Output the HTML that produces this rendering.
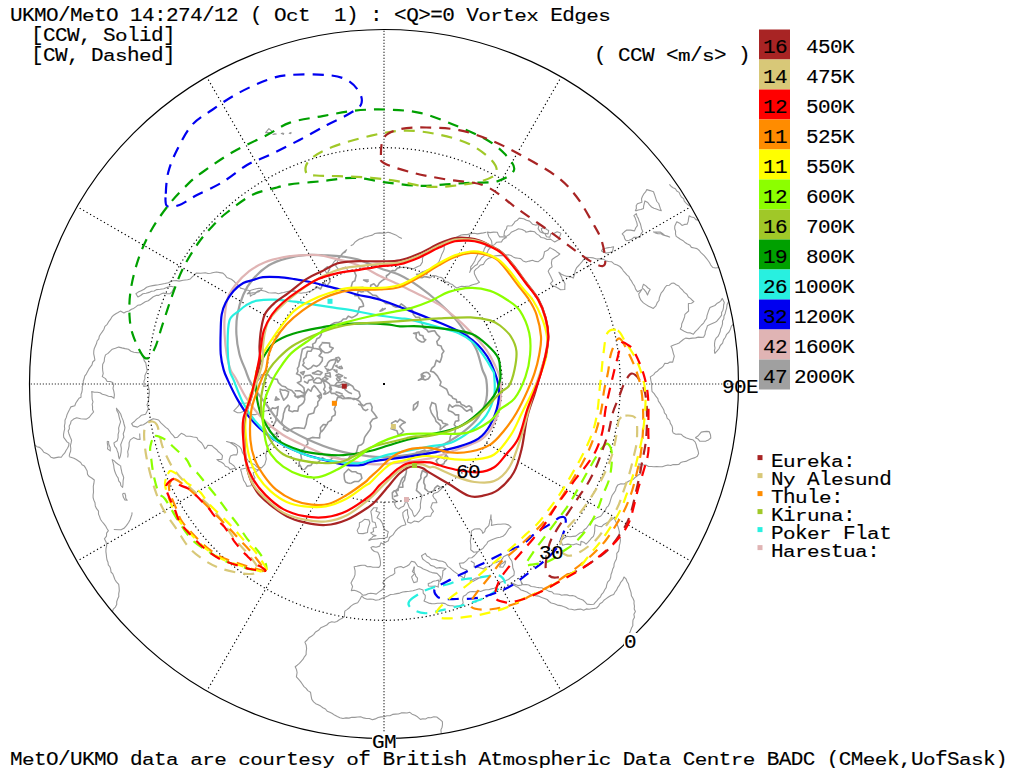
<!DOCTYPE html>
<html><head><meta charset="utf-8"><style>
html,body{margin:0;padding:0;background:#fff;width:1016px;height:768px;overflow:hidden}
svg{position:absolute;left:0;top:0}
.t{position:absolute;font-family:"Liberation Mono",monospace;font-size:21px;letter-spacing:-0.6px;line-height:20px;white-space:pre;color:#000;-webkit-text-stroke:0.15px #000}
.x,.a,.i{display:inline-block;transform-origin:0 15.5px}
.x{transform:scaleY(0.79)}
.a{transform:scaleY(0.93)}
.i{transform:scaleY(0.94)}
</style></head><body>
<svg width="1016" height="768" viewBox="0 0 1016 768">
<path d="M351.2,270.4 L348.0,270.7 L345.6,267.0 L342.2,268.2 L338.8,269.8 L337.1,267.6 L335.7,265.9 L336.8,263.1 L338.0,260.4 L339.4,257.9 L341.3,255.9 L342.6,253.4 L345.2,252.2 L346.6,249.8 L344.6,251.4 L342.6,253.2 L341.0,255.2 L338.8,257.3 L336.9,259.6 L334.4,261.2 L332.8,263.7 L331.3,266.3 L329.6,268.8 L328.2,271.1 L328.8,275.2 L329.1,278.1 M326.4,286.6 L324.4,282.5 M314.9,288.7 L312.6,290.4 L310.1,291.2 L306.3,292.6 L303.7,292.8 L301.1,293.3 L298.5,292.7 L296.1,291.4 L293.4,290.9 L289.8,291.1 L286.4,291.7 L283.8,292.5 L281.1,292.9 L278.4,293.8 L275.3,292.7 L271.9,293.0 L268.5,292.8 L265.3,291.3 L260.8,290.2 L258.9,291.8 L256.4,292.6 L254.5,294.3 L252.0,295.0 L250.4,296.2 L250.0,293.4 L249.4,290.5 L246.5,290.0 L243.9,289.0 L240.5,288.1 L238.6,285.5 L235.9,283.7 L233.9,281.2 L231.4,279.3 L226.8,277.5 L225.1,275.2 L222.9,273.1 L219.8,272.6 L216.5,272.0 L213.5,272.5 L210.6,273.2 L208.0,273.5 L205.4,272.8 L200.7,273.2 L196.2,273.1 L194.4,275.1 L192.2,276.9 L190.3,279.0 L187.6,279.8 L183.2,280.3 L179.2,281.1 L176.3,280.6 L173.2,280.7 L170.7,281.4 L168.4,282.7 L164.9,283.5 L161.3,284.2 L158.5,284.7 L155.8,285.1 L152.7,285.6 L149.6,286.2 L146.6,287.3 L144.1,289.3 L141.2,290.7 L138.2,292.1 L135.9,293.7 L137.9,297.0 L140.6,295.5 L142.9,293.7 L146.0,293.2 L149.1,292.4 L151.5,291.2 L154.2,291.0 L156.5,289.6 L160.2,289.3 L163.8,288.7 L167.3,287.2 L170.9,286.3 L174.8,287.2 L173.3,289.2 L172.1,291.6 L170.1,293.6 L166.8,293.8 L163.4,293.1 L161.0,293.9 L158.8,295.4 L156.1,295.4 L153.3,296.8 L150.8,298.7 L148.3,300.7 L145.3,301.8 L142.6,303.5 L140.5,304.9 L137.7,305.3 L135.8,306.9 L133.7,308.4 L131.4,309.2 L129.0,311.0 L126.1,311.7 L123.9,312.9 L120.4,311.1 L118.1,312.5 L115.8,313.8 L113.6,315.2 L111.7,317.2 L110.3,319.7 L108.5,321.9 L107.2,324.3 L104.9,326.3 L104.0,329.2 L102.4,331.6 L100.7,334.0 L99.3,336.3 L98.8,338.9 L97.1,341.0 L96.5,343.6 L95.4,346.0 L94.3,348.4 L93.8,350.8 L93.7,353.8 L94.3,356.7 L94.9,360.0 L92.7,362.0 L92.0,364.8 L90.3,367.1 L88.7,369.4 L87.5,371.7 L86.3,374.1 L84.7,376.2 L84.1,378.8 L83.2,381.3 L83.4,384.1 L82.2,386.6 L82.3,389.3 L81.9,392.0 L81.0,394.5 L81.0,397.2 L79.0,398.3 L77.4,400.6 L75.8,403.0 L74.8,405.7 L70.8,406.9 L69.7,409.3 L68.5,411.6 L67.1,414.4 L66.3,417.4 L65.0,420.3 L65.0,423.2 L64.4,426.0 L64.7,428.8 L64.0,431.7 L63.5,434.6 L63.7,437.4 L65.4,439.6 L67.0,441.9 L69.0,443.3 L68.6,446.0 L67.5,448.3 L66.0,450.5 L64.8,452.9 L63.0,454.8 L61.3,457.2 L58.6,457.1 L56.0,457.6 L53.8,458.1 L50.9,457.2 L49.0,455.0 L46.6,453.4 L43.8,452.2 L42.0,449.6 L39.6,447.4 L36.9,446.7 L34.8,444.9 M69.2,456.6 L69.6,453.9 L70.6,451.3 L70.8,448.5 L70.4,445.6 L71.1,442.9 L71.6,440.2 L70.3,437.3 L69.1,434.3 L68.2,431.1 L69.4,428.8 L69.2,426.1 L70.5,423.8 L71.1,421.2 L73.6,419.1 L76.7,417.7 L80.7,418.7 L83.7,419.0 L86.4,419.1 L89.3,417.3 L91.2,414.7 L93.6,412.0 L92.5,409.5 L92.6,406.9 L92.2,404.4 L93.0,401.8 L92.2,399.3 L92.0,396.8 L92.0,393.9 L91.7,391.6 L94.5,392.2 L97.4,392.2 L100.1,392.8 L102.4,394.3 L105.5,395.0 L108.5,396.3 L111.7,396.6 L114.0,398.2 L114.4,394.6 L113.8,391.1 L113.0,388.3 L113.6,385.3 L112.7,382.4 L110.2,381.5 L107.2,381.5 L105.5,378.6 L102.3,376.6 L103.2,373.6 L102.7,370.5 L102.5,367.4 L102.7,364.3 L104.2,361.5 L104.5,358.2 L105.5,354.9 L108.0,353.4 L110.0,351.3 L112.3,349.2 L115.4,348.3 L118.7,347.1 L121.9,347.9 L125.1,348.6 L128.4,349.2 L131.0,351.2 L133.9,352.2 L137.4,352.6 L141.3,352.7 L142.2,355.5 L143.6,358.0 L144.3,360.8 L145.8,362.8 L146.2,365.3 L146.6,367.8 L147.2,370.4 L146.1,373.1 L144.8,375.7 L145.0,378.6 L143.9,381.2 L144.1,383.9 L143.7,386.5 L148.1,385.7 L149.0,388.9 L149.4,392.2 L149.1,395.3 L148.7,398.2 L148.5,401.6 L147.0,404.8 L148.4,408.6 L147.0,411.4 L145.6,414.2 L141.5,415.2 L139.2,417.4 L136.6,419.1 L134.4,421.5 L131.6,423.6 L133.2,426.1 L137.5,427.1 L140.2,425.4 L143.4,424.7 L146.1,423.0 L148.6,421.1 L153.1,418.7 L155.8,419.2 L158.6,420.0 L160.9,422.9 L163.6,425.4 L165.7,427.4 L168.0,429.0 L169.7,431.3 L171.3,433.7 L173.3,435.7 L174.9,437.8 L177.6,437.2 L179.4,435.2 L181.3,433.3 L183.9,434.4 L186.0,436.2 L190.1,436.3 L193.3,437.0 L196.9,437.5 L198.0,439.8 L201.7,443.0 L203.6,446.0 L204.9,448.7 L206.4,447.8 L207.8,445.2 L212.0,445.6 L214.2,447.8 L216.7,449.7 L218.4,451.8 L220.5,453.4 L222.5,455.7 L221.9,459.4 L216.9,459.6 L219.0,461.3 L221.5,462.3 L223.7,463.8 L225.4,466.2 L228.1,467.2 L230.1,469.6 L233.0,468.7 L235.6,468.2 L233.9,465.8 L231.7,464.1 L229.4,462.8 L229.2,459.7 L230.5,456.0 L233.6,454.8 L236.7,454.9 L237.6,452.2 L237.4,449.7 L236.5,447.0 L234.3,445.3 L232.0,443.8 L229.5,442.2 L226.6,441.5 L229.0,442.3 L231.6,442.6 L234.2,443.2 L236.9,444.9 L239.7,446.7 L241.5,449.4 L242.4,452.6 L244.3,455.2 L245.8,457.5 L247.5,459.7 L249.1,462.0 L251.8,463.4 L254.6,464.5 L256.7,466.9 L261.5,467.9 L264.8,464.4 L265.5,461.8 L266.3,459.1 L265.7,455.5 L266.6,452.0 L266.9,449.4 L267.7,446.6 L269.9,444.4 L272.4,442.4 L273.6,439.6 L275.7,437.6 M278.3,432.6 L275.5,434.2 L272.6,434.4 L269.3,431.5 L269.2,427.8 L273.5,425.3 M270.1,410.6 L267.0,410.5 L264.1,411.6 L261.2,412.6 L258.4,413.6 L255.7,414.6 L252.5,414.6 L249.4,413.8 L246.7,412.6 L244.0,411.2 L240.7,412.6 L237.4,412.7 L233.7,410.8 L236.6,407.8 L238.3,406.0 L239.5,403.2 L242.5,403.3 L245.4,403.2 L248.7,402.5 L248.9,399.0 L249.5,395.6 L250.6,392.8 L252.6,390.4 L253.0,387.2 L255.3,384.9 L256.8,382.0 L258.6,379.8 L260.5,377.7 L261.4,374.6 L264.8,375.2 M240.4,469.3 L243.3,468.7 L246.3,468.0 L249.7,467.8 L253.2,467.7 L256.0,469.2 L259.2,469.5 L256.6,471.3 L253.2,472.7 L253.7,475.3 L255.0,477.8 L253.0,481.4 L250.9,485.8 L247.0,486.4 L245.6,483.3 L243.6,480.3 L242.9,477.5 L242.0,474.8 L241.4,472.0 L240.4,469.3 M116.2,408.0 L118.6,410.9 L120.7,414.0 L121.8,417.4 L123.2,420.6 L124.0,424.0 L125.0,427.5 L124.4,430.6 L123.2,433.8 L123.9,437.1 L122.7,439.6 L121.7,442.1 L120.7,444.7 L121.3,448.4 L121.1,452.1 L120.5,455.5 L119.3,458.9 L118.5,456.3 L118.3,453.5 L117.3,450.9 L116.5,448.3 L114.6,446.1 L113.9,442.9 L117.2,440.8 L118.1,437.7 L118.1,434.4 L118.9,431.3 L118.6,428.1 L119.5,425.1 L120.6,421.9 L119.7,419.1 L119.0,416.3 L118.4,413.4 L116.9,410.8 L116.4,407.9 M120.6,465.5 L120.9,468.1 L121.5,470.5 L121.9,473.0 L122.9,475.3 L123.7,477.6 L123.1,480.9 L123.0,484.2 L122.6,487.5 L120.8,485.5 L120.4,482.8 L118.7,480.8 L118.2,478.1 L116.8,476.0 L115.6,473.5 L114.6,470.8 L114.0,468.1 L113.7,465.3 L113.0,462.6 L112.2,459.6 L114.3,460.9 L116.1,462.8 L118.1,464.3 L120.2,465.6 M108.5,441.0 L108.8,444.3 L110.2,447.4 L110.3,450.9 L107.5,448.9 L107.9,446.3 L107.4,443.8 L107.2,441.8 L108.2,441.1 M124.7,493.0 L125.6,495.5 L125.7,498.2 L127.2,500.3 L124.9,499.9 L123.3,497.1 L122.6,493.9 L124.4,493.1 M132.1,512.4 L131.8,514.9 L130.9,517.3 L130.2,519.5 L128.6,522.5 L126.4,525.6 L124.0,528.3 L121.5,529.6 L118.6,529.7 L113.8,529.5 M139.7,433.6 L139.8,436.5 L140.1,439.4 L136.9,439.1 L133.5,437.6 L130.3,439.9 L129.1,442.7 L129.1,445.8 L128.5,448.8 L127.7,451.6 L128.1,454.6 L127.7,457.5 M69.3,456.7 L73.9,458.2 L76.3,459.5 L78.5,461.0 L80.7,462.5 L82.0,464.7 L84.4,466.1 L85.8,468.4 L87.2,471.1 L87.5,474.3 L89.3,476.6 L91.7,478.0 L94.3,480.0 L93.9,483.2 L93.3,486.4 L93.4,489.6 L93.5,492.2 L93.1,494.9 L93.1,497.5 L93.8,500.1 L95.0,502.8 L95.3,505.9 L96.6,508.7 L98.5,511.2 L98.5,514.1 L99.6,516.6 L100.4,519.2 L102.0,521.5 L103.8,523.6 L105.5,525.8 L106.8,528.2 L108.4,530.7 L106.6,533.1 L106.5,536.2 L104.4,538.8 L106.1,542.0 L106.7,545.5 L106.0,548.5 L105.9,551.6 L106.3,554.6 L106.6,557.5 L107.0,560.0 L108.0,562.3 L108.3,564.9 L110.0,567.0 L110.7,569.4 L111.0,572.0 L112.8,573.9 L113.9,576.7 L114.9,579.5 L116.4,581.9 L118.7,584.3 L119.1,587.5 L119.3,590.7 L118.7,593.8 L118.8,596.6 L117.6,599.1 L116.7,601.7 L116.7,604.6 L115.4,607.1 L113.3,609.1 L112.4,611.9 M271.7,133.3 L268.8,132.6 L265.6,132.6 L268.9,128.6 L272.1,131.3 L271.7,133.0 M276.5,133.9 L272.9,134.4 L274.7,133.7 L276.5,134.4 M284.0,134.5 L281.3,133.6 L283.0,133.0 L284.1,134.2 M290.9,133.8 L289.2,133.2 L291.0,132.4 L290.9,133.7 M262.6,287.9 L260.6,290.2 L257.7,291.1 L255.4,292.7 L252.6,292.9 L249.9,293.2 L247.3,293.9 L250.8,290.3 L253.5,289.5 L256.3,288.7 L259.0,288.4 L262.8,288.3 M350.7,245.8 L353.2,244.5 L355.0,242.1 L357.2,240.5 L359.6,239.0 L362.3,238.4 L364.6,237.0 L367.3,236.6 L369.8,235.8 L372.4,235.1 L374.8,233.5 L377.4,233.1 L380.0,232.9 L382.7,233.1 L385.4,233.0 L388.0,232.3 L390.7,232.9 L393.2,233.9 L395.7,234.9 L398.7,236.9 L401.9,238.6 M327.3,274.1 L325.8,271.8 L324.0,269.1 L327.5,266.5 L329.8,269.5 L328.2,271.8 L326.9,274.3 M304.8,469.3 L301.7,469.9 M399.2,509.4 L396.2,507.4 L394.4,503.7 M400.3,267.5 L403.5,267.3 L406.7,267.3 L409.7,268.1 L412.9,268.9 L415.4,267.7 L417.8,266.4 L420.4,265.4 L422.5,261.9 L422.4,258.9 L423.2,256.0 L425.3,253.5 L427.8,251.4 L430.5,250.5 L432.9,248.8 L435.6,247.8 L438.3,246.8 L440.3,245.3 L442.4,243.8 L444.5,242.9 L444.2,246.1 L444.2,249.1 L443.3,251.6 L442.0,253.9 L441.1,256.4 L440.0,259.1 L438.9,261.9 L436.8,264.3 L434.4,266.2 L432.4,268.0 L430.0,268.9 L427.6,269.7 L424.8,270.9 L422.0,272.1 M430.5,277.7 L433.0,275.5 L435.7,275.7 L438.6,277.0 L441.8,277.6 L443.7,279.5 L445.4,281.9 L448.2,282.1 L450.1,283.8 L452.5,284.6 L454.4,286.5 L456.8,288.0 L459.3,287.1 L461.7,286.3 L464.3,286.6 L466.8,286.3 L469.4,286.1 L471.8,285.0 L474.4,284.3 L477.0,283.6 L479.5,282.3 L477.2,279.5 L475.7,276.4 L474.4,273.8 L474.3,271.2 L475.9,269.1 L478.0,267.6 L480.1,265.3 L483.4,264.4 L484.7,262.0 L486.4,259.9 L488.6,258.2 L491.6,257.4 L494.4,256.0 L497.5,255.6 L500.3,255.4 L503.0,255.6 L505.7,255.1 L508.6,254.8 L511.0,255.5 L513.2,256.9 L515.5,257.9 L518.1,258.2 L520.7,258.6 L523.1,260.9 L526.0,262.1 L529.2,261.1 L532.6,260.3 L535.3,261.4 L538.3,261.7 L540.6,259.8 L542.9,258.0 L543.9,255.0 L544.5,251.7 L547.6,250.3 L550.0,247.6 L552.5,249.1 L555.1,250.4 L557.3,252.3 L559.8,254.0 L557.8,255.7 L555.6,257.0 L552.0,259.5 L551.4,263.2 L552.1,266.9 L549.6,268.8 L548.2,271.2 L549.2,273.6 L550.5,275.9 L551.5,278.3 L552.9,280.9 L550.4,283.7 L552.6,285.8 L555.5,286.8 L558.2,288.3 L560.6,289.8 L564.8,289.5 L564.8,286.6 L565.0,283.7 L563.8,281.4 L562.3,279.4 L561.6,276.9 L560.3,274.7 L558.9,272.2 L561.4,274.2 L564.2,275.4 L567.2,276.4 L570.2,276.6 L573.3,278.1 L574.5,274.6 L575.2,270.8 L576.7,267.6 L579.2,265.0 L582.3,261.3 L583.9,259.2 L586.1,257.2 L589.7,257.5 L593.4,257.9 L596.6,259.0 L599.9,258.9 L603.3,259.1 L605.8,260.8 L608.5,261.5 L611.5,261.7 L614.1,263.9 L617.2,265.0 L619.9,266.5 L621.8,268.5 L623.3,270.8 L625.2,272.8 L626.9,274.9 L629.0,276.7 L630.0,279.2 L631.6,281.2 L632.8,283.5 L634.6,286.1 L635.6,289.2 L637.6,291.8 L641.9,289.4 L640.3,291.8 L638.7,293.8 L639.5,297.3 L640.9,300.2 L643.4,302.9 L646.4,304.9 L648.6,306.3 L650.9,307.3 L653.3,308.4 L655.9,305.9 L657.2,302.7 L659.0,300.5 L659.3,297.9 L660.2,295.5 L661.1,293.1 L663.2,290.7 L664.7,287.9 L666.7,285.5 L669.4,285.2 L671.5,283.3 L674.0,283.1 L676.2,284.8 L678.8,286.0 L680.4,288.2 L682.5,290.0 L684.3,292.4 L686.9,294.2 L688.4,297.0 L690.5,298.4 L692.3,300.3 L693.9,301.6 L691.5,303.3 L688.4,303.5 L688.4,307.2 L688.6,311.0 L684.9,314.3 L684.6,316.9 L683.7,319.2 L682.8,321.6 L681.7,324.0 L681.5,326.7 L680.3,329.0 L682.5,330.2 L684.7,331.6 L687.4,332.7 L690.4,332.9 L693.4,334.2 L695.3,331.6 L697.7,329.4 L699.7,327.0 L701.5,325.0 L703.6,323.1 L704.9,320.7 L706.6,318.5 L707.0,315.6 L707.9,312.9 L708.8,310.2 L710.0,307.6 L712.4,306.5 L714.9,305.5 L716.8,303.6 L719.1,302.3 L721.0,300.6 L722.3,298.4 L724.3,302.5 L723.6,305.0 L723.5,307.7 L722.9,310.2 L721.6,312.6 L721.6,315.2 L720.0,317.3 L718.3,319.3 L716.8,321.2 L714.6,322.6 L712.3,323.6 L710.0,324.6 L707.5,325.7 L706.6,328.6 L705.4,331.5 L705.0,334.6 L703.6,337.2 L701.0,337.4 L698.3,337.1 L695.7,337.9 L692.4,338.1 L689.2,338.6 L685.6,338.1 L683.3,339.5 L681.2,341.2 L679.1,343.0 L676.6,344.0 L673.8,345.0 L671.0,346.2 L672.1,348.6 L672.8,351.1 L673.4,353.6 L674.3,356.1 L673.5,359.2 L672.7,362.1 L670.0,362.1 L667.6,363.5 L664.8,363.3 L663.4,365.8 L661.5,367.8 L659.1,369.3 L657.4,371.2 L655.2,372.5 L653.7,374.6 L650.3,376.9 L650.9,380.5 L651.7,384.0 L651.7,387.6 L652.0,391.3 L654.2,393.6 L655.8,396.2 L657.8,398.6 L658.4,401.2 L660.0,403.3 L661.2,405.6 L662.6,407.8 L663.9,410.2 L664.4,412.9 L666.3,414.9 L667.1,418.1 L669.6,420.3 L670.4,423.4 L671.9,425.7 L672.6,428.2 L672.4,431.0 L673.3,433.1 L675.8,434.2 L678.5,434.0 L681.3,434.3 L683.6,436.6 L686.4,438.1 L689.6,439.1 L692.7,439.7 L695.1,441.9 L696.3,444.8 L697.0,447.8 L698.1,450.8 L698.6,453.5 L697.3,456.2 L695.0,457.6 L691.4,458.7 L688.1,460.3 L685.8,461.4 L683.1,461.7 L680.7,462.6 L678.7,464.5 L676.0,464.6 L673.2,464.5 L670.7,465.5 L667.9,465.0 L665.1,465.8 L662.3,466.8 L659.4,466.8 L656.7,466.6 L653.9,466.7 L651.2,466.5 L648.5,466.5 L646.1,465.1 L643.5,465.0 L638.7,463.9 L639.3,467.1 L640.2,470.2 L640.8,473.5 L638.0,475.2 L635.4,477.2 L633.2,479.4 L629.5,480.7 L627.0,482.3 L624.3,484.0 L620.9,483.8 L617.7,485.1 L616.2,487.6 L615.5,490.5 L613.9,492.9 L612.2,495.3 L611.2,497.9 L610.4,500.6 L609.6,503.3 L608.4,505.8 L606.4,507.7 L605.4,510.3 L603.5,512.2 L602.1,514.5 L600.5,516.3 L597.5,517.4 L594.7,519.1 L592.2,520.2 L590.6,522.2 L589.2,524.3 L587.8,526.3 L586.4,528.3 L584.2,529.8 L582.6,532.2 L579.9,533.0 L577.7,534.6 L575.7,536.1 L572.9,536.4 L570.0,536.8 L566.9,536.2 L563.8,538.3 L560.8,540.7 L562.6,545.3 L565.2,544.5 L567.9,544.1 L570.6,544.6 L573.4,544.7 L576.3,543.8 L580.6,545.3 L581.0,541.4 L583.8,542.2 L586.0,544.1 L588.0,542.2 L589.8,540.1 L591.5,538.0 L593.4,536.3 L594.3,533.6 L594.7,530.9 L594.7,528.1 L595.2,524.8 L598.3,526.2 L601.7,526.6 L603.8,524.4 L606.5,523.0 L609.2,521.6 L611.6,519.8 L613.8,517.8 L615.4,520.8 L616.9,524.0 L618.0,526.6 L618.7,529.2 L619.4,531.9 L619.2,534.9 L620.1,537.6 L620.4,540.5 L620.0,543.2 L619.3,545.7 L619.1,548.5 L618.6,551.1 L616.8,553.4 L616.8,556.2 L616.4,558.9 L615.1,561.4 L614.1,563.9 L613.9,566.8 L612.6,569.3 L612.0,572.0 L611.0,574.5 L610.7,577.3 L609.7,579.9 L607.6,582.1 L606.7,584.8 L606.2,587.6 L604.7,589.8 L603.5,592.3 L601.6,594.3 L600.5,596.8 L598.6,598.7 L597.0,600.7 L595.1,602.7 L593.7,604.3 L590.4,604.5 L587.0,604.1 L585.0,601.9 L582.9,600.0 L580.2,599.0 L577.5,597.9 L575.1,596.2 L572.4,595.5 L569.7,595.7 L567.1,594.9 L564.4,594.7 L561.7,595.2 L559.3,594.2 L556.7,594.0 L554.0,593.8 L551.9,591.8 L549.0,591.4 L546.6,589.9 L544.1,588.7 L541.6,587.8 L539.0,587.6 L536.4,587.3 L533.9,586.7 L531.2,586.5 L528.8,585.0 L526.1,584.5 L523.1,584.7 L521.4,582.3 L520.6,579.4 L521.3,582.4 L521.9,585.0 L517.9,585.6 L514.8,584.3 L511.8,583.0 L513.8,585.1 L516.2,586.5 L518.7,587.8 L521.0,590.0 L524.0,590.9 L526.9,592.0 L529.5,593.7 L532.3,594.9 L535.3,595.6 L538.6,596.1 L541.6,597.4 L544.6,598.4 L547.2,599.5 L549.1,601.5 L551.2,603.0 L554.4,603.8 L557.4,605.1 L560.7,605.6 L563.4,606.6 L566.1,607.5 L568.6,609.0 L571.4,609.2 L574.5,610.0 L577.6,609.4 L580.6,609.1 L583.7,610.2 L586.3,608.9 L589.1,609.3 L591.7,608.8 L594.3,608.4 L596.5,608.0 L598.5,606.1 L599.9,603.8 L602.4,602.3 L603.9,600.2 L606.2,598.6 L608.5,597.0 L610.9,595.5 L613.7,594.4 L615.0,592.0 L616.7,589.9 L617.8,587.3 L619.4,585.2 L620.7,582.3 L622.8,579.9 L624.0,577.0 L626.0,578.8 L626.9,581.2 L628.5,584.1 L629.2,587.2 L630.3,590.2 L631.1,592.9 L631.4,595.8 L632.9,598.3 L634.1,601.0 L634.0,603.7 L634.5,606.3 L634.2,609.0 L635.4,611.6 L633.9,614.3 L634.5,617.3 L633.0,619.9 L632.8,622.8 L632.8,625.8 L631.5,628.1 L630.6,630.6 L629.6,633.0 L628.6,635.4 L627.3,637.8 L625.5,639.9 L624.5,642.3 L624.0,644.9 M399.1,508.7 L401.1,507.3 L403.6,506.2 L404.7,504.1 L405.8,500.6 L407.9,503.7 L409.3,507.6 L412.0,510.7 L413.3,514.7 L414.5,516.6 L416.9,514.3 L419.3,510.9 L420.5,507.9 L420.3,504.7 L421.0,500.2 L422.0,495.9 M440.5,487.7 L443.4,486.7 L440.3,489.8 L437.5,492.3 L433.7,493.5 L432.8,495.8 L434.1,498.1 L435.8,499.7 L436.9,502.8 L432.5,502.8 L430.8,507.4 L433.5,511.4 L431.7,513.4 L430.7,516.1 L427.1,516.2 L424.5,517.0 L422.7,518.9 L418.7,521.9 L414.4,521.0 L411.1,523.1 L407.8,522.3 L407.5,519.9 L408.7,517.6 L407.6,513.8 L407.5,509.4 L405.0,510.6 L402.8,512.6 L402.9,515.5 L403.6,518.4 L405.1,522.2 L405.8,524.7 L401.4,526.0 L398.3,528.2 L395.5,531.0 L393.0,534.9 L389.4,537.5 L388.4,540.7 L384.5,542.7 L382.6,543.9 L381.0,542.8 L379.7,546.1 L376.0,547.2 L372.9,546.6 L370.9,547.4 L372.0,549.5 L374.4,551.5 L377.7,552.2 L379.1,555.1 L380.1,559.2 L380.5,562.2 L380.4,565.4 L378.9,567.4 L375.8,567.3 L372.8,567.2 L370.2,566.5 L367.4,566.7 L364.9,565.3 L362.1,565.2 L359.4,565.6 L356.8,566.3 L354.1,566.7 L355.1,570.8 L355.0,574.9 L353.9,577.8 L352.3,580.4 L351.0,583.1 L352.6,586.4 L351.3,590.6 L354.1,590.2 L356.7,591.1 L360.4,592.8 L363.1,595.3 L365.7,594.9 L367.9,593.8 L370.6,593.3 L373.3,593.5 L376.2,594.1 L378.7,592.1 L381.4,590.3 L383.5,588.3 L385.0,585.5 L382.8,582.8 L384.3,580.7 L385.9,578.8 L390.0,576.1 L392.6,575.1 L394.9,573.1 L394.6,570.9 L394.7,568.4 L398.3,567.0 L401.0,566.6 L403.3,567.7 L406.6,566.3 L409.1,564.7 L411.5,561.2 L414.8,562.1 L417.7,566.2 L420.6,567.3 L423.3,569.0 L427.3,570.4 L429.6,571.7 L432.1,572.6 L437.0,573.4 L440.5,577.0 L439.9,581.5 L441.9,578.5 L442.7,574.3 L442.9,570.8 L445.9,568.5 L442.9,568.0 L439.8,567.6 L436.4,568.1 L433.8,566.2 L430.7,565.4 L428.9,563.3 L426.5,561.9 L424.4,560.4 L422.7,559.0 L421.5,555.8 L425.3,553.4 L426.9,556.0 L429.4,557.3 L431.7,559.3 L434.3,559.2 L436.7,559.9 L439.0,560.9 L442.4,561.3 L445.5,562.8 L447.7,566.4 L449.9,567.9 L451.8,569.6 L454.2,571.6 L456.7,573.4 L460.3,575.9 L462.6,577.1 L464.2,578.6 L465.2,574.0 L466.8,570.1 L463.8,568.9 L460.8,567.5 L459.4,563.3 L463.7,562.9 L466.5,560.6 L468.8,558.0 L471.8,557.7 L474.6,555.5 L476.9,552.9 L477.5,551.7 L473.8,552.2 L470.7,549.8 L470.9,545.8 L470.3,541.0 L471.0,536.9 L471.2,534.0 L471.5,530.9 L474.6,529.0 L477.2,528.8 L479.8,528.9 L481.9,530.8 L482.8,533.4 L484.7,531.6 L485.4,529.0 L488.8,525.6 L489.5,522.7 L490.0,519.9 L491.1,517.5 L491.0,514.9 L490.6,517.5 L491.5,519.9 L491.8,522.5 L491.4,525.4 L494.7,524.8 L497.9,524.3 L500.5,524.3 L503.0,524.0 L505.3,524.0 L508.4,524.9 L511.1,527.1 L508.8,528.7 L507.4,531.0 L505.5,534.0 L502.9,536.3 L500.1,537.2 L497.2,537.8 L494.4,538.8 L491.2,539.9 L488.0,541.4 L486.6,544.0 L484.6,546.2 L482.9,548.5 L480.1,550.1 L477.5,552.0 M470.8,561.0 L474.3,563.3 L474.1,567.0 L478.6,567.5 L483.5,568.9 L485.7,567.0 L488.5,566.8 L491.0,565.6 L493.5,562.7 L496.1,562.6 L498.5,561.4 L500.9,560.7 L502.4,558.7 L503.5,556.7 L507.7,554.5 L509.7,558.0 L511.9,561.3 L512.5,564.5 L512.8,567.7 L514.3,571.8 L514.0,575.3 L511.2,577.2 L508.5,579.5 L506.0,580.6 L503.3,581.2 L500.6,582.3 L498.8,584.9 L496.7,587.3 L494.1,588.3 L491.4,588.9 L488.7,589.7 L485.9,589.8 L483.2,590.4 L480.6,591.5 L477.9,590.8 L475.4,591.8 L472.8,591.5 L470.0,591.8 L467.6,593.0 L465.8,595.1 L463.4,596.2 L462.5,599.4 L463.2,603.0 L459.8,607.1 L457.3,606.4 L454.8,606.3 L452.3,605.7 L449.9,605.8 L447.4,605.1 L445.3,603.6 L442.7,603.1 L440.0,603.3 L437.4,603.2 L434.7,603.7 L431.6,603.6 L428.7,603.1 L424.0,600.9 L425.2,598.3 L425.3,595.4 L423.2,593.1 L423.1,589.9 L419.4,588.7 L416.2,589.8 L413.0,590.7 L409.4,591.3 L405.8,591.6 L402.8,592.0 L399.8,593.1 L396.8,593.6 L393.7,594.2 L390.6,594.5 L387.8,596.0 L384.9,597.2 L382.0,598.3 L379.0,599.8 L375.7,600.3 L372.9,599.2 L370.0,599.1 L367.1,599.2 L364.3,598.2 L361.7,596.1 L360.0,599.2 L357.7,602.7 L355.3,603.5 L353.0,604.6 L350.9,606.1 L349.1,608.0 L347.0,609.6 L344.8,611.1 L344.5,613.6 L344.5,616.5 L342.1,618.3 L339.3,619.7 L336.9,621.5 L334.4,622.2 L331.8,621.8 L329.2,622.7 L326.8,625.0 L323.7,626.4 L320.7,627.8 L318.5,630.3 L315.6,631.9 L313.6,634.6 L311.4,636.3 L308.9,637.8 L307.1,640.0 L304.9,642.1 L306.2,645.3 L306.6,648.6 L306.2,651.6 L306.1,654.7 L304.4,656.8 L303.1,659.2 L301.4,661.1 L299.4,663.3 L297.2,665.2 L295.2,666.7 L296.5,669.6 L297.1,672.5 L296.4,676.8 L298.5,679.2 L300.6,681.6 L302.4,684.3 L304.0,686.6 L306.1,688.4 L307.8,690.6 L310.5,692.2 L311.2,696.3 L311.8,699.4 L313.6,701.8 L315.7,703.7 L318.2,704.8 L320.7,706.1 L322.9,707.7 L325.4,709.0 L327.2,711.2 L329.8,712.3 L332.3,713.5 L334.5,715.1 L337.3,716.6 L339.9,717.8 L343.0,718.5 L346.0,717.9 L349.0,718.1 L351.9,717.2 L354.8,717.4 L357.8,717.0 L360.7,716.8 L363.5,717.9 L366.4,718.5 L369.4,718.5 L372.4,719.8 L375.3,718.9 L378.1,717.5 L381.1,716.9 L384.1,716.8 L386.9,715.8 L389.9,715.8 L392.6,714.4 L395.5,714.1 L398.4,714.0 L401.2,712.9 L404.1,712.7 L407.0,713.0 L409.8,712.3 L412.1,714.2 L414.9,715.3 L417.5,716.8 L420.4,719.4 L422.9,718.7 L425.6,719.0 L427.9,717.6 L430.9,717.7 L433.8,716.8 L436.7,717.0 L439.6,719.2 L442.4,721.7 L442.5,724.5 L442.1,727.2 L440.9,729.9 L441.3,733.8 M505.7,560.6 L505.2,563.5 L502.9,567.3 L499.5,566.9 L500.9,564.3 L503.5,562.8 L505.4,560.6 M469.7,581.3 L473.1,579.6 L476.2,578.0 L479.8,577.7 L475.5,579.9 L472.8,581.4 L469.9,581.6 M428.3,583.6 L430.9,582.8 L433.3,581.3 L436.1,580.7 L438.5,580.1 L438.9,582.8 L438.2,585.3 L438.3,587.1 L435.2,586.0 L432.0,586.2 L428.4,586.0 L428.2,583.2 M415.1,573.5 L415.7,576.1 L417.5,578.1 L417.1,581.7 L413.8,582.6 L412.6,579.9 L411.6,576.8 L414.7,573.7 M414.6,566.6 L414.0,569.8 L414.4,573.4 L412.4,571.7 L413.4,569.2 L414.2,566.6 M368.5,540.7 L371.4,539.5 L374.5,539.1 L377.2,538.9 L379.9,538.5 L382.6,538.4 L385.1,538.0 L387.4,536.9 L387.5,534.6 L388.3,531.8 L384.9,529.7 L383.6,527.6 L382.6,523.8 L380.1,519.6 L377.0,517.7 L378.0,515.7 L379.9,512.5 L376.0,511.3 L377.3,507.8 L373.6,507.8 L370.8,511.4 L371.6,515.3 L371.9,518.1 L372.3,521.8 L375.2,522.5 L375.7,524.8 L376.4,527.5 L373.1,528.0 L373.6,531.6 L370.6,532.9 L373.4,535.1 L376.0,535.6 L372.9,536.5 L372.0,537.6 L368.4,540.4 M358.4,533.4 L357.1,530.4 L359.3,526.4 L359.4,522.7 L362.1,521.4 L364.5,519.3 L368.9,519.9 L369.9,523.0 L368.5,526.9 L367.8,529.4 L367.5,532.5 L363.1,533.6 L358.2,533.4 M561.1,233.2 L559.8,236.4 L558.6,239.8 L554.7,242.0 L552.6,240.6 L550.5,239.1 L547.1,239.5 L544.2,238.0 L541.1,237.5 L539.1,235.4 L536.6,233.9 L534.7,231.8 L530.4,231.1 L525.9,232.2 L525.5,231.2 L522.2,229.5 L518.5,228.8 L516.2,230.1 L514.0,231.0 L511.2,232.3 L509.3,234.5 L506.4,236.4 L503.9,235.5 L504.7,231.0 L506.5,228.9 L507.1,226.0 L511.9,225.7 L513.7,223.7 L515.0,221.4 L517.4,220.2 L519.2,218.1 L523.7,218.8 L526.5,220.3 L529.6,221.1 L532.5,224.2 L535.3,225.1 L539.2,224.5 L538.1,228.6 L540.4,232.1 L542.8,233.0 L545.0,233.7 L546.5,236.8 L549.7,237.3 L550.9,233.6 L554.2,233.2 L557.1,231.8 L560.7,233.1 M543.6,232.8 L541.8,230.8 L541.4,228.6 L544.7,227.5 L546.6,229.5 L548.7,230.5 L548.0,233.9 L543.1,233.0 M506.5,237.2 L502.9,239.5 L501.5,241.9 L496.7,242.2 L494.7,244.4 L492.0,246.1 L491.9,243.5 L491.6,241.1 L490.3,238.8 L488.8,236.7 L487.4,232.1 L490.2,232.6 L493.6,232.1 L497.3,232.3 L498.3,234.7 L499.7,236.9 L503.3,236.9 L506.8,237.7 M490.9,247.6 L488.5,249.5 L487.4,252.4 L485.2,254.0 L483.7,256.1 L481.5,257.7 L480.1,260.0 L478.3,261.9 L477.2,264.5 L474.8,265.8 L472.9,267.6 L471.0,269.5 L469.7,272.4 L470.6,269.8 L470.7,266.9 L472.3,264.8 L473.8,262.6 L475.0,260.4 L475.9,257.8 L477.2,255.4 L478.4,252.7 L481.1,252.7 L483.5,251.9 L484.3,248.9 L486.0,246.1 L490.7,247.4 M486.4,232.3 L483.4,232.9 L480.4,233.4 L477.4,233.9 L474.2,233.2 L470.7,233.6 L467.2,234.6 L464.1,234.6 L461.1,235.0 L458.5,236.2 L455.9,237.5 L452.5,238.9 L449.4,240.7 L445.6,242.4 M601.3,250.9 L603.0,248.8 L605.5,248.3 L608.3,247.6 L611.2,247.3 L613.6,246.7 L613.0,249.2 L612.4,251.9 L609.2,252.5 L605.9,253.1 L603.5,252.3 L601.3,250.8 M642.3,287.7 L643.4,284.3 L645.9,285.9 L648.0,288.0 L650.2,289.4 L648.7,291.9 L647.5,295.0 L646.1,292.1 L644.2,289.7 L641.9,287.6 M626.2,240.7 L624.7,238.6 L624.0,236.0 L622.2,233.8 L624.4,231.8 L626.8,230.0 L630.5,230.1 L634.5,230.9 L635.8,227.8 L637.4,225.6 L636.9,222.9 L636.0,220.4 L635.2,217.8 L633.9,215.7 L636.3,213.7 L637.0,216.2 L638.4,218.6 L639.1,221.1 L640.3,223.5 L641.0,226.1 L641.5,228.7 L642.8,231.4 L641.0,233.9 L640.2,237.1 L637.0,237.4 L633.8,237.4 L631.6,239.3 L629.1,240.3 L626.4,240.6 M635.2,211.0 L636.4,208.6 L636.2,205.8 L637.4,203.7 L641.9,202.3 L641.5,198.7 L642.5,196.2 L643.8,193.9 L645.6,191.9 L646.8,189.6 L650.1,190.6 L653.5,191.8 L654.4,194.2 L655.2,196.7 L656.0,199.1 L656.9,201.5 L658.7,203.5 L659.5,205.9 L660.3,208.4 L661.3,210.7 L658.8,209.9 L656.3,209.1 L653.9,208.3 L651.6,207.0 L649.5,204.9 L647.8,202.5 L644.9,200.9 L644.3,203.5 L643.6,206.1 L643.5,208.4 L640.9,209.5 L638.2,210.0 L635.6,211.1 M653.1,232.0 L656.6,232.1 L660.2,232.0 L662.4,233.5 L664.6,235.2 L667.2,236.0 L669.6,237.1 L665.5,235.8 L663.0,235.0 L660.7,233.6 L657.9,233.8 L655.5,232.9 L653.1,231.7 M718.8,267.5 L715.7,268.0 L712.8,267.5 L710.8,265.1 L709.3,262.3 L707.5,259.8 L706.0,257.8 L704.4,255.9 L702.6,254.1 L700.7,252.3 L699.3,250.5 L697.0,248.6 L694.3,248.0 L691.4,247.4 L689.7,244.9 L687.0,243.7 L684.7,242.2 L682.7,240.4 L680.4,239.3 L678.3,237.8 L676.2,236.4 L675.5,233.9 L675.6,231.3 L674.7,228.8 L674.8,226.1 L676.8,221.8 L679.7,223.2 L682.0,225.4 L684.5,224.4 L687.1,224.2 L688.2,221.4 L688.6,218.4 L689.1,215.8 L691.4,217.0 L694.0,217.5 L695.9,219.6 L698.4,220.3 M733.7,323.9 L731.4,326.2 L730.4,329.2 L729.0,332.0 L726.6,334.3 L725.4,337.2 L723.5,339.9 L722.6,343.1 L720.3,345.5 L719.1,348.5 L717.1,350.9 L714.9,353.3 L714.4,350.7 L715.0,348.2 L714.5,345.6 L714.6,343.0 L715.0,340.6 L716.1,338.2 L718.0,336.4 L719.2,334.0 L720.2,331.5 L720.6,328.9 L721.8,326.4 L722.5,323.9 L722.5,321.1 L723.8,318.7 L724.0,315.9 L725.2,313.4 L725.8,310.8 L726.6,308.3 L727.1,304.5 L728.7,301.2 M669.4,184.3 L671.0,186.2 L673.0,187.7 L675.4,188.8 L676.8,191.0 L679.1,192.4 L680.1,194.7 L681.4,197.0 L683.6,198.6 L684.3,201.2 L686.1,203.1 L687.9,204.8 L691.0,206.8 M695.2,437.7 L697.6,436.3 L699.4,434.4 L701.3,432.1 L704.0,431.6 L706.7,431.4 L709.1,431.6 L710.5,434.7 L710.8,438.0 L708.5,439.9 L705.9,441.1 L702.9,441.2 L699.7,441.2 L697.9,438.9 L695.3,437.8" fill="none" stroke="#999" stroke-width="1.1" stroke-linejoin="round"/>
<path d="M323.8,377.1 L327.9,378.8 L326.2,380.0 L321.6,379.9 L323.7,377.7 M337.9,373.7 L342.6,375.8 L340.4,377.1 L335.9,375.5 L337.8,374.2 M336.7,376.7 L340.6,379.5 L338.3,381.0 L337.2,379.9 L336.3,378.1 M340.8,365.6 L342.4,368.2 L342.1,368.5 L339.0,367.8 L340.2,366.3 M336.4,366.3 L340.3,368.6 L338.6,367.7 L335.5,365.9 L337.6,365.3 M336.6,369.4 L337.0,372.4 L336.3,371.8 L333.9,369.8 L335.5,370.1 M343.9,377.4 L346.1,378.0 L344.8,378.0 L344.0,377.0 M316.8,396.5 L321.3,394.5 L321.3,398.0 L318.0,397.4 M327.5,368.8 L328.8,370.1 L327.3,371.5 L327.2,369.3 M303.9,381.3 L307.6,383.2 L308.7,380.4 L311.4,379.8 L313.4,378.4 L310.3,375.0 L305.1,375.9 L303.4,378.4 M294.7,390.8 L300.1,390.9 L302.4,392.6 L304.2,393.4 L304.2,397.1 L301.2,396.2 L297.9,397.9 L294.1,395.4 M275.6,396.7 L277.5,398.6 L279.1,399.4 L275.1,400.1 L276.4,396.3 M343.7,387.3 L345.7,390.2 L348.9,392.6 L352.0,393.8 M335.5,391.9 L339.6,392.9 L342.7,394.3 M358.1,404.1 L360.9,405.2 L363.2,409.2 L365.7,410.6 L368.3,409.1 M321.3,432.1 L323.9,428.9 L326.3,425.2 M393.9,496.5 L397.6,495.5 L395.5,490.8 L397.4,489.0 L399.2,487.2 L402.9,487.2 L402.6,482.9 L404.5,480.1 L405.1,477.1 L405.6,474.0 M425.6,376.6 L422.5,375.1 L423.8,378.8 M365.6,291.4 L364.9,289.1 L363.0,287.4 L360.5,287.5 L357.3,287.7 L354.3,288.5 L352.4,288.4 L351.3,286.4 L352.5,282.1 L354.9,280.8 L355.5,277.9 L356.1,275.6 L354.1,270.9 L351.2,270.4 M329.1,278.1 L330.2,281.4 L326.4,286.6 M324.4,282.5 L322.4,285.1 L320.6,289.0 L317.2,287.0 L314.9,288.7 M275.7,437.6 L278.3,432.6 M273.5,425.3 L274.8,422.9 L276.1,420.5 L275.7,417.1 L277.1,415.3 L277.5,411.3 L278.2,406.6 L275.4,408.5 L272.3,407.9 L270.1,410.6 M264.8,375.2 L268.2,374.7 L270.3,377.6 L273.5,378.8 L277.3,379.4 L278.4,382.7 L280.7,384.9 L282.0,386.0 L285.0,386.7 L287.6,389.0 L291.8,390.4 L293.5,392.4 L295.3,394.4 L295.5,396.7 L299.9,396.0 L305.0,394.9 L304.4,391.5 L303.9,387.9 L302.2,386.2 L297.3,382.7 L300.9,381.3 L301.2,377.7 L299.9,375.2 L296.5,373.8 L297.9,371.3 L297.4,368.4 L298.8,366.4 L299.4,362.6 L300.4,359.3 L301.1,355.4 L301.6,352.8 L302.4,349.2 L307.0,346.9 L313.1,347.8 L312.6,344.1 L315.3,342.6 L316.9,338.8 L319.5,337.5 L321.3,334.5 L321.6,330.5 L324.1,329.0 L327.4,328.6 L329.4,326.6 L331.1,324.8 L334.3,322.9 L338.7,322.2 L341.3,321.3 L343.3,319.0 L346.2,318.9 L348.4,316.1 L351.8,317.8 L354.5,316.4 L356.9,314.8 L358.3,312.5 L358.7,309.6 L359.5,307.1 L363.6,306.2 L363.2,303.8 L361.5,300.4 L358.8,297.9 L358.2,295.8 L354.8,295.7 L357.4,294.4 L358.3,290.6 L361.3,292.0 L364.3,291.5 M368.8,280.0 L365.4,280.1 L363.6,280.0 L367.1,281.7 L368.6,280.8 M302.1,469.7 L300.9,466.8 L299.1,464.0 L299.5,461.2 L301.6,458.8 L300.8,454.8 L300.8,450.7 L304.1,449.1 L305.3,446.1 L307.9,443.9 L307.1,439.2 L310.2,438.2 L312.4,437.4 L315.6,437.7 L319.7,437.9 L319.7,434.8 L320.7,431.7 L320.4,427.8 L323.3,424.5 L326.9,424.8 L328.0,422.1 L331.2,420.3 L332.1,416.6 L335.1,415.0 L335.4,412.0 L334.2,409.2 L335.3,406.2 L336.0,402.5 L337.6,397.2 L340.5,397.5 L343.0,398.7 L345.5,398.5 L349.8,398.5 L355.0,398.6 L357.2,400.0 L359.6,401.4 L361.1,403.9 L363.6,405.8 L366.2,403.8 L370.5,403.3 L372.2,407.2 L371.6,410.5 L373.5,412.7 L375.0,414.8 L377.1,417.7 L372.7,419.2 L370.0,423.0 L371.1,426.2 L370.2,429.4 L367.4,433.3 L365.8,435.4 L364.5,437.6 L363.4,442.8 L361.5,444.7 L358.3,445.7 L357.2,449.6 L356.3,452.7 L354.8,455.9 L349.9,456.0 L348.3,459.1 L345.6,459.2 L342.0,459.1 L338.8,458.2 L335.8,457.3 L333.2,457.4 L330.3,459.8 L326.9,460.5 L322.3,457.8 L319.3,461.2 L317.0,463.4 L312.8,462.5 L311.0,465.4 L307.6,465.9 L304.8,469.3 M350.7,483.5 L348.0,483.0 L345.6,482.0 L344.5,479.2 L344.1,474.7 L344.4,473.2 L348.4,469.2 L351.7,471.7 L355.6,471.7 L357.6,473.3 L360.8,474.0 L361.9,478.2 L358.6,481.5 L354.5,481.5 L350.8,483.4 M282.9,429.0 L287.5,431.2 L289.5,430.2 L294.2,428.1 L298.3,427.8 L304.4,428.5 L306.1,424.3 L306.9,419.1 L308.5,414.6 L313.7,413.0 L314.9,408.2 L317.7,405.5 L317.8,402.0 L319.8,399.6 L319.1,396.5 L320.9,393.5 L319.1,391.4 L317.2,388.8 L314.3,385.6 L312.4,387.6 L311.0,391.3 L308.2,389.0 L306.6,391.5 L305.2,394.0 L304.6,396.7 L304.7,399.8 L303.6,402.6 L301.5,404.6 L298.7,406.5 L297.8,411.1 L294.3,410.8 L292.5,411.7 L288.8,410.5 L289.5,406.5 L288.1,405.1 L285.1,408.5 L284.5,411.1 L283.5,413.5 L283.0,418.1 L281.7,422.2 L282.7,424.7 L284.7,426.8 L282.9,429.0 M330.7,393.4 L330.8,390.5 L329.5,387.7 L331.1,385.3 L334.8,385.7 L338.5,387.1 L342.9,387.0 L346.4,386.3 L349.8,384.5 L352.7,386.2 L354.2,389.2 L358.9,391.6 L360.2,396.0 L358.2,398.6 L353.5,399.5 L351.0,398.1 L348.3,397.7 L344.9,398.3 L342.5,395.5 L339.0,396.5 L334.7,393.3 L330.9,393.4 M334.8,385.3 L337.1,382.5 L340.7,382.5 L343.6,381.5 L345.7,382.5 L349.3,384.1 L344.5,384.5 L341.5,384.4 L339.0,385.6 L334.8,385.3 M323.2,394.6 L325.6,391.8 L323.7,389.5 L325.0,386.8 L324.6,384.3 L322.8,380.8 L326.7,381.8 L329.4,383.8 L331.6,389.3 L329.5,391.5 L327.6,393.1 L324.3,394.5 M313.6,381.0 L316.7,378.0 L319.4,378.0 L321.9,380.3 L321.0,382.9 L317.4,383.2 L313.9,382.4 L313.2,379.7 M311.9,373.2 L315.0,372.2 L318.0,370.7 L322.1,372.6 L320.3,374.6 L318.2,374.5 L315.0,374.0 L311.9,373.2 M304.5,362.3 L302.6,365.1 L304.2,366.4 L307.9,369.3 L310.9,367.9 L313.4,365.3 L316.5,366.5 L319.2,364.9 L322.3,360.7 L322.4,357.8 L319.0,355.8 L321.7,352.5 L319.8,349.4 L315.3,348.5 L312.4,348.4 L311.1,351.1 L307.5,351.3 L306.5,354.3 L306.1,357.2 L303.7,359.4 L303.3,362.4 M321.6,342.6 L326.1,342.9 L329.6,343.1 L329.7,346.8 L333.2,348.1 L331.3,350.2 L331.0,351.2 L327.8,352.7 L325.1,352.8 L322.2,350.7 L319.3,347.1 L321.9,343.7 M324.2,367.1 L326.8,365.7 L327.6,363.2 L329.2,361.2 L330.5,360.4 L336.1,359.1 L335.4,362.5 L333.7,365.4 L332.3,368.9 L328.2,370.8 L325.2,367.7 M325.3,375.5 L328.3,376.2 L330.5,376.9 L329.9,372.7 L325.5,373.7 L325.4,376.8 M335.0,358.4 L337.2,360.0 L337.8,362.2 L340.2,359.2 L338.8,357.4 L335.3,358.1 M279.5,389.0 L282.8,390.2 L284.9,390.1 L288.7,391.7 L288.1,394.7 L286.9,397.1 L283.7,400.2 L282.0,396.4 L280.9,393.4 L279.8,390.4 M300.2,372.7 L304.4,371.5 L303.1,374.7 L300.1,372.2 M398.4,435.2 L396.9,430.8 L391.1,428.8 L392.3,425.9 L391.5,423.1 L395.8,420.8 L397.4,422.1 L399.8,419.2 L405.3,422.5 L402.3,423.7 L399.6,426.6 L403.6,431.2 L401.6,433.2 L399.0,434.6 M413.1,410.6 L413.5,407.5 L413.6,405.2 L418.1,401.6 L417.5,405.8 L415.6,408.4 L413.0,410.6 M447.8,423.9 L445.6,425.5 L443.4,427.0 L440.1,429.8 L440.6,425.7 L438.5,423.4 L436.0,421.3 L435.1,418.3 L433.1,415.5 L431.3,412.6 L430.0,408.1 L431.9,402.4 L435.5,403.9 L436.2,406.8 L436.5,409.6 L437.2,412.7 L437.2,415.9 L438.3,419.4 L441.5,420.5 L443.1,423.3 L445.9,423.9 L448.4,425.1 M430.5,375.7 L428.4,378.7 L425.2,379.9 L422.2,378.9 L418.4,380.2 L421.8,378.3 L421.2,374.5 L423.9,372.8 L426.4,372.3 L428.4,373.1 L430.5,375.8 M426.1,339.3 L423.7,341.9 L421.6,342.0 L418.2,340.3 L416.0,337.7 L416.3,334.2 L413.6,333.3 L416.5,332.9 L418.8,332.1 L419.8,334.9 L422.9,335.8 L423.7,338.8 L426.4,340.1 M383.3,308.1 L380.0,311.1 L381.6,310.7 L385.3,308.5 L383.9,309.2 M394.4,503.7 L395.7,500.8 L392.6,498.6 L392.3,492.9 L394.2,490.9 L398.1,490.5 L398.5,486.9 L399.8,484.5 L401.0,481.0 L402.6,478.0 L405.6,475.3 L406.4,471.9 L406.3,469.3 L406.1,467.1 L406.1,461.6 L410.1,459.5 L412.8,456.1 L415.7,454.2 L416.5,452.2 L419.8,451.8 L424.9,450.1 L428.6,453.6 L433.2,453.0 L436.3,452.7 L439.7,449.7 L442.4,451.5 L446.0,454.3 L444.1,458.9 L440.7,457.3 L438.4,458.4 L436.1,460.6 L437.5,463.3 L440.3,465.3 L443.9,463.8 L444.9,461.4 L446.2,460.5 L448.0,457.4 L445.7,454.4 L447.9,451.1 L445.8,448.9 L442.7,445.6 L445.3,444.6 L447.3,443.3 L449.9,441.0 L450.0,437.7 L451.1,434.6 L454.8,433.1 L455.4,429.5 L455.8,426.6 L454.2,424.7 L455.5,421.2 L458.8,420.6 L458.5,418.1 L458.7,414.7 L455.4,414.9 L453.3,412.7 L451.1,411.5 L448.5,410.7 L448.2,409.1 L449.5,404.5 L452.3,407.3 L455.6,405.4 L459.0,405.6 L462.0,407.0 L464.6,409.6 L466.8,411.3 L470.5,409.3 L472.2,411.8 L471.5,407.5 L469.2,405.8 L466.2,407.1 L463.9,405.4 L461.4,404.6 L460.0,401.9 L456.8,402.4 L456.3,399.6 L452.9,398.3 L451.8,396.3 L448.8,394.6 L447.5,391.3 L446.7,389.2 L442.6,386.9 L439.9,385.4 L441.0,382.0 L439.6,379.8 L437.5,376.1 L435.5,373.9 L433.7,372.1 L430.5,371.3 L431.9,368.1 L434.6,365.8 L436.3,360.3 L439.8,362.3 L440.8,360.2 L441.9,356.6 L441.9,354.1 L443.9,351.2 L441.9,348.5 L441.1,345.9 L437.7,345.0 L436.8,341.6 L438.6,339.5 L439.9,337.1 L437.2,334.7 L434.6,330.7 L431.7,331.1 L428.4,331.9 L426.6,329.5 L423.3,327.7 L422.3,324.2 L420.7,321.1 L419.6,317.2 L415.7,317.1 L413.4,314.5 L412.7,310.8 L410.2,307.8 L406.9,308.3 L404.3,306.2 L401.2,303.9 L399.1,306.6 L396.1,307.2 L393.7,306.3 L391.5,304.4 L389.6,303.7 L385.7,303.4 L383.4,301.5 L381.0,299.6 L378.5,297.8 L376.3,295.6 L372.7,295.1 L370.1,293.0 L366.3,290.3 L370.4,289.4 L370.7,285.2 L373.9,283.8 L377.0,287.2 L379.4,282.8 L382.4,280.4 L386.5,278.2 L386.4,275.8 L388.5,274.5 L390.3,272.4 L392.2,270.5 L395.1,270.7 L397.4,268.1 L400.3,267.5 M422.0,272.1 L419.6,274.1 L416.6,274.3 L419.6,277.4 L422.4,277.6 L424.9,276.6 L427.7,277.1 L430.5,277.7 M422.0,495.9 L419.3,492.8 L416.4,490.4 L417.0,487.4 L417.4,483.4 L419.1,480.7 L421.0,478.1 L420.7,475.9 L422.4,470.5 L427.5,473.4 L426.8,475.8 L424.5,477.8 L423.9,480.4 L423.7,482.7 L425.0,485.3 L424.9,488.7 L428.6,492.0 L431.2,491.9 L433.8,490.6 L435.0,487.9 L437.6,485.6 L440.5,487.7" fill="none" stroke="#999" stroke-width="1.6" stroke-linejoin="round"/>
<circle cx="384.0" cy="384.0" r="118.2" fill="none" stroke="#000" stroke-width="1.2" stroke-dasharray="1.2 2.8"/>
<circle cx="384.0" cy="384.0" r="236.3" fill="none" stroke="#000" stroke-width="1.2" stroke-dasharray="1.2 2.8"/>
<line x1="502.2" y1="384.0" x2="738.5" y2="384.0" stroke="#000" stroke-width="1.2" stroke-dasharray="1 2"/>
<line x1="486.4" y1="443.1" x2="691.0" y2="561.2" stroke="#000" stroke-width="1.2" stroke-dasharray="1.2 2.8"/>
<line x1="443.1" y1="486.4" x2="561.2" y2="691.0" stroke="#000" stroke-width="1.2" stroke-dasharray="1.2 2.8"/>
<line x1="384.0" y1="502.2" x2="384.0" y2="738.5" stroke="#000" stroke-width="1.2" stroke-dasharray="1 2"/>
<line x1="324.9" y1="486.4" x2="206.8" y2="691.0" stroke="#000" stroke-width="1.2" stroke-dasharray="1.2 2.8"/>
<line x1="281.6" y1="443.1" x2="77.0" y2="561.2" stroke="#000" stroke-width="1.2" stroke-dasharray="1.2 2.8"/>
<line x1="265.8" y1="384.0" x2="29.5" y2="384.0" stroke="#000" stroke-width="1.2" stroke-dasharray="1 2"/>
<line x1="281.6" y1="324.9" x2="77.0" y2="206.7" stroke="#000" stroke-width="1.2" stroke-dasharray="1.2 2.8"/>
<line x1="324.9" y1="281.6" x2="206.7" y2="77.0" stroke="#000" stroke-width="1.2" stroke-dasharray="1.2 2.8"/>
<line x1="384.0" y1="265.8" x2="384.0" y2="29.5" stroke="#000" stroke-width="1.2" stroke-dasharray="1 2"/>
<line x1="443.1" y1="281.6" x2="561.2" y2="77.0" stroke="#000" stroke-width="1.2" stroke-dasharray="1.2 2.8"/>
<line x1="486.4" y1="324.9" x2="691.0" y2="206.7" stroke="#000" stroke-width="1.2" stroke-dasharray="1.2 2.8"/>
<circle cx="384.0" cy="384.0" r="354.5" fill="none" stroke="#000" stroke-width="1.2"/>
<path d="M165.8,193.8 C166.0,188.2 166.4,179.8 168.2,172.5 C170.1,165.2 173.0,157.9 177.0,150.0 C181.0,142.1 186.2,131.7 192.0,125.0 C197.8,118.3 204.5,115.2 212.0,110.0 C219.5,104.8 227.8,98.8 237.0,93.8 C246.2,88.8 258.2,83.1 267.0,80.0 C275.8,76.9 279.5,75.8 289.5,75.0 C299.5,74.2 317.4,74.2 327.0,75.0 C336.6,75.8 341.6,77.1 347.0,80.0 C352.4,82.9 357.2,88.3 359.5,92.5 C361.8,96.7 362.8,101.2 360.8,105.0 C358.7,108.8 352.6,111.7 347.0,115.0 C341.4,118.3 334.9,120.8 327.0,125.0 C319.1,129.2 309.1,135.0 299.5,140.0 C289.9,145.0 278.2,150.8 269.5,155.0 C260.8,159.2 254.9,160.4 247.0,165.0 C239.1,169.6 230.3,177.5 222.0,182.5 C213.7,187.5 204.1,191.2 197.0,195.0 C189.9,198.8 184.5,203.2 179.5,205.0 C174.5,206.8 169.3,207.9 167.0,206.0 C164.7,204.1 165.5,199.3 165.8,193.8Z" fill="none" stroke="#0000f0" stroke-width="2.2" stroke-dasharray="11 8"/>
<path d="M145.0,358.0 C141.5,355.8 136.0,343.4 133.4,336.3 C130.8,329.2 129.9,323.3 129.5,315.5 C129.1,307.7 129.3,299.0 130.8,289.4 C132.3,279.8 135.2,268.1 138.7,258.1 C142.2,248.1 146.5,238.6 151.7,229.5 C156.9,220.4 163.8,211.0 169.9,203.4 C176.0,195.8 182.8,189.1 188.1,183.9 C193.4,178.8 194.7,177.7 202.0,172.5 C209.3,167.3 221.2,158.8 232.0,152.5 C242.8,146.2 257.3,140.0 267.0,135.0 C276.7,130.0 280.8,125.8 290.0,122.6 C299.2,119.4 311.7,118.1 322.5,116.1 C333.3,114.1 344.2,111.7 355.0,110.6 C365.8,109.5 376.6,109.2 387.4,109.6 C398.2,110.0 409.1,110.5 419.9,112.9 C430.7,115.3 441.6,119.9 452.4,124.2 C463.2,128.5 476.2,133.9 484.9,138.8 C493.6,143.7 499.5,148.3 504.4,153.5 C509.3,158.7 515.2,165.1 514.1,169.7 C513.0,174.3 504.9,178.9 497.9,181.1 C490.9,183.3 480.6,182.2 471.9,182.7 C463.2,183.2 454.6,183.8 445.9,184.3 C437.2,184.8 429.6,186.2 419.9,185.9 C410.1,185.6 398.2,184.0 387.4,182.7 C376.6,181.3 365.8,178.1 355.0,177.8 C344.2,177.5 333.3,180.0 322.5,181.1 C311.7,182.2 297.6,183.2 290.0,184.3 C282.4,185.4 283.3,185.7 277.0,187.5 C270.7,189.3 260.3,190.8 252.0,195.0 C243.7,199.2 233.3,207.6 227.0,212.5 C220.7,217.4 218.9,219.3 214.2,224.3 C209.5,229.3 203.8,235.1 198.6,242.5 C193.4,249.9 187.2,259.9 182.9,268.6 C178.6,277.3 176.0,285.1 172.5,294.6 C169.0,304.2 165.1,316.8 162.1,325.9 C159.1,335.0 157.2,343.9 154.3,349.3 C151.5,354.7 148.5,360.2 145.0,358.0Z" fill="none" stroke="#00a000" stroke-width="2.2" stroke-dasharray="11 8"/>
<path d="M306.2,173.0 C305.1,170.4 305.2,164.3 309.5,160.0 C313.8,155.7 321.9,151.1 332.2,147.0 C342.5,142.9 359.3,138.3 371.2,135.6 C383.1,132.9 392.9,131.0 403.7,130.7 C414.5,130.4 425.4,131.8 436.2,134.0 C447.0,136.2 459.4,139.4 468.6,143.7 C477.8,148.0 486.8,155.1 491.4,160.0 C496.0,164.9 497.8,169.5 496.2,173.0 C494.6,176.5 488.9,178.9 481.6,181.1 C474.3,183.2 461.6,185.0 452.4,185.9 C443.2,186.8 435.6,187.4 426.4,186.6 C417.2,185.8 406.4,182.6 397.2,181.1 C388.0,179.6 380.9,178.6 371.2,177.8 C361.4,177.0 347.9,176.6 338.7,176.2 C329.5,175.8 321.4,176.0 316.0,175.5 C310.6,175.0 307.3,175.6 306.2,173.0Z" fill="none" stroke="#a0c828" stroke-width="2.2" stroke-dasharray="11 8"/>
<path d="M380.9,155.1 C380.9,150.8 380.9,141.5 384.2,137.2 C387.4,132.9 393.4,130.7 400.4,129.1 C407.4,127.5 416.6,127.3 426.4,127.5 C436.1,127.7 448.1,127.9 458.9,130.1 C469.7,132.3 480.6,136.1 491.4,140.5 C502.2,144.9 513.0,150.8 523.8,156.7 C534.6,162.6 547.6,169.7 556.3,176.2 C565.0,182.7 569.8,188.1 575.8,195.7 C581.8,203.3 587.7,214.1 592.0,221.7 C596.3,229.3 599.6,234.2 601.8,241.2 C604.0,248.2 606.1,260.1 605.0,263.9 C603.9,267.7 600.2,266.1 595.3,263.9 C590.4,261.7 583.4,256.3 575.8,250.9 C568.2,245.5 559.5,238.4 549.8,231.4 C540.1,224.4 528.2,216.3 517.4,208.7 C506.6,201.1 496.8,190.8 484.9,185.9 C473.0,181.0 457.8,181.6 445.9,179.4 C434.0,177.2 423.7,175.6 413.4,172.9 C403.1,170.2 389.6,166.2 384.2,163.2 C378.8,160.2 380.9,159.4 380.9,155.1Z" fill="none" stroke="#a82424" stroke-width="2.2" stroke-dasharray="11 8"/>
<path d="M152.4,421.5 C154.1,421.7 155.8,422.8 157.0,425.0 C158.2,427.2 158.7,431.2 159.5,434.5 C160.3,437.8 160.9,441.6 162.0,445.0 C163.1,448.4 164.2,451.2 166.0,455.0 C167.8,458.8 170.0,463.6 173.0,468.0 C176.0,472.4 179.9,477.0 184.0,481.4 C188.1,485.8 192.8,490.1 197.3,494.5 C201.8,498.9 206.6,502.8 211.0,507.5 C215.4,512.2 220.1,518.1 223.8,523.0 C227.4,527.9 229.4,532.3 233.0,537.0 C236.6,541.7 242.4,547.6 245.6,551.2 C248.8,554.9 250.1,556.4 252.0,559.0 C253.9,561.6 256.5,564.7 257.0,567.0 C257.5,569.3 256.4,571.8 255.0,573.0 C253.6,574.2 251.3,574.0 248.8,574.0 C246.2,574.0 244.1,574.0 239.4,573.1 C234.7,572.2 226.3,570.5 220.6,568.4 C214.9,566.3 210.2,564.0 205.0,560.6 C199.8,557.2 194.1,553.2 189.4,548.0 C184.7,542.8 181.2,536.0 176.8,529.4 C172.4,522.8 166.7,515.8 162.8,508.4 C158.9,501.0 156.1,493.5 153.4,484.9 C150.7,476.3 148.0,465.4 146.4,456.8 C144.8,448.2 144.0,438.9 144.1,433.4 C144.2,427.9 145.6,426.0 147.0,424.0 C148.4,422.0 150.7,421.3 152.4,421.5Z" fill="none" stroke="#d8c878" stroke-width="2.2" stroke-dasharray="11 8"/>
<path d="M155.0,436.0 C157.6,434.9 163.1,438.3 166.0,440.0 C168.9,441.7 170.3,444.2 172.6,446.3 C174.9,448.4 177.3,450.5 179.7,452.8 C182.1,455.1 185.1,457.6 186.9,460.0 C188.8,462.4 189.1,464.9 190.8,467.1 C192.5,469.3 194.9,470.4 197.3,473.0 C199.7,475.6 201.9,478.7 205.0,482.5 C208.1,486.3 212.2,491.1 215.9,495.8 C219.6,500.5 223.2,505.8 226.9,510.6 C230.6,515.4 234.4,520.0 237.8,524.7 C241.2,529.4 243.8,534.4 247.2,538.8 C250.6,543.1 255.0,547.1 258.0,551.0 C261.0,554.9 263.9,559.0 265.2,562.2 C266.5,565.4 266.9,568.5 266.0,570.0 C265.1,571.5 262.1,571.0 260.0,571.0 C257.9,571.0 256.3,570.7 253.4,570.0 C250.5,569.3 247.4,568.5 242.5,566.9 C237.6,565.3 229.5,563.2 223.8,560.6 C218.0,558.0 213.2,554.6 208.0,551.2 C202.8,547.9 197.3,545.1 192.5,540.3 C187.7,535.5 183.8,529.3 179.2,522.4 C174.6,515.5 168.5,503.9 165.1,499.0 C161.7,494.1 160.8,497.1 158.9,493.2 C157.0,489.3 155.0,481.7 153.7,475.6 C152.4,469.5 151.6,461.6 151.0,456.7 C150.4,451.8 149.7,449.8 150.4,446.3 C151.1,442.9 152.4,437.1 155.0,436.0Z" fill="none" stroke="#8cff00" stroke-width="2.2" stroke-dasharray="11 8"/>
<path d="M173.0,479.0 C174.7,478.2 176.2,479.6 179.0,481.4 C181.8,483.2 186.0,486.6 190.0,490.0 C194.0,493.4 198.8,498.0 203.0,502.0 C207.2,506.0 210.8,509.8 215.0,514.0 C219.2,518.2 223.8,522.7 228.0,527.0 C232.2,531.3 236.0,535.7 240.0,540.0 C244.0,544.3 248.3,548.7 252.0,553.0 C255.7,557.3 259.7,563.0 262.0,566.0 C264.3,569.0 268.0,570.8 266.0,571.0 C264.0,571.2 255.3,568.5 250.0,567.0 C244.7,565.5 239.2,563.8 234.0,562.0 C228.8,560.2 224.0,558.8 219.0,556.0 C214.0,553.2 208.8,549.2 204.0,545.0 C199.2,540.8 193.8,535.2 190.0,531.0 C186.2,526.8 183.3,523.8 181.0,520.0 C178.7,516.2 177.7,512.0 176.0,508.0 C174.3,504.0 172.2,499.7 171.0,496.0 C169.8,492.3 168.7,488.8 169.0,486.0 C169.3,483.2 171.3,479.8 173.0,479.0Z" fill="none" stroke="#ff8c00" stroke-width="2.2" stroke-dasharray="11 8"/>
<path d="M168.0,474.0 C169.1,472.0 169.0,470.4 171.3,471.0 C173.6,471.6 179.1,475.5 181.7,477.5 C184.3,479.5 184.7,481.0 186.9,482.8 C189.1,484.5 192.3,486.3 194.7,488.0 C197.1,489.7 199.0,490.7 201.2,493.2 C203.4,495.7 204.8,499.1 208.0,502.8 C211.2,506.5 216.4,511.1 220.6,515.3 C224.8,519.5 229.1,523.6 233.0,527.8 C236.9,532.0 240.3,536.4 244.0,540.3 C247.7,544.2 251.6,547.1 255.0,551.2 C258.4,555.4 262.4,561.8 264.4,565.3 C266.3,568.8 269.0,571.8 266.7,572.3 C264.4,572.8 255.6,569.8 250.3,568.4 C245.0,567.0 239.9,565.6 234.7,563.8 C229.5,561.9 224.2,560.4 219.0,557.5 C213.8,554.6 208.3,550.8 203.4,546.6 C198.5,542.4 193.3,536.7 189.4,532.5 C185.5,528.3 182.9,526.0 180.0,521.6 C177.1,517.2 174.2,510.8 172.0,506.0 C169.8,501.2 168.2,496.8 167.0,493.0 C165.8,489.2 164.8,486.2 165.0,483.0 C165.2,479.8 166.9,476.0 168.0,474.0Z" fill="none" stroke="#ffff00" stroke-width="2.2" stroke-dasharray="11 8"/>
<path d="M166.0,486.0 C166.8,483.0 171.7,479.0 173.9,478.8 C176.1,478.6 176.6,483.1 179.0,484.7 C181.4,486.3 185.4,486.9 188.2,488.6 C191.0,490.3 193.6,493.1 195.6,495.0 C197.6,496.9 198.2,497.6 200.3,499.7 C202.4,501.8 205.9,505.2 208.0,507.5 C210.1,509.8 211.0,511.4 212.8,513.8 C214.6,516.1 217.2,519.5 219.0,521.6 C220.8,523.7 221.7,523.7 223.8,526.2 C225.8,528.8 229.8,534.4 231.6,537.0 C233.4,539.6 232.9,539.5 234.7,541.9 C236.5,544.3 240.4,548.9 242.5,551.2 C244.6,553.6 245.1,553.9 247.2,556.0 C249.3,558.1 252.7,561.9 255.0,563.8 C257.3,565.6 259.6,565.7 261.2,566.9 C262.9,568.1 266.8,570.6 265.0,571.0 C263.2,571.4 255.4,570.1 250.3,569.0 C245.2,567.9 239.9,566.2 234.7,564.5 C229.5,562.8 224.2,561.3 219.0,558.5 C213.8,555.7 208.3,551.7 203.4,547.5 C198.5,543.3 193.3,537.7 189.4,533.5 C185.5,529.3 182.4,526.4 180.0,522.5 C177.6,518.6 176.8,514.2 175.0,510.0 C173.2,505.8 170.5,501.0 169.0,497.0 C167.5,493.0 165.2,489.0 166.0,486.0Z" fill="none" stroke="#ff0000" stroke-width="2.2" stroke-dasharray="11 8"/>
<path d="M409.2,601.4 C411.0,598.6 418.1,594.4 422.2,592.0 C426.3,589.6 429.7,588.5 434.0,587.2 C438.3,585.9 443.6,585.6 448.1,584.3 C452.6,583.0 456.2,580.7 461.1,579.6 C466.0,578.5 473.8,578.3 477.7,577.8 C481.6,577.3 481.3,577.0 484.8,576.6 C488.3,576.2 495.6,574.4 498.9,575.4 C502.2,576.4 504.8,580.3 504.8,582.5 C504.8,584.7 501.8,586.0 498.9,588.4 C495.9,590.8 491.6,594.3 487.1,596.7 C482.6,599.1 477.3,600.8 471.8,602.6 C466.3,604.4 459.6,605.9 454.1,607.3 C448.6,608.7 443.6,609.9 438.7,610.9 C433.8,611.9 429.0,613.6 424.5,613.2 C420.0,612.8 414.1,610.5 411.5,608.5 C408.9,606.5 407.4,604.1 409.2,601.4Z" fill="none" stroke="#28f0e0" stroke-width="2.2" stroke-dasharray="11 8"/>
<path d="M565.6,519.2 C565.0,516.8 562.9,516.4 560.2,517.3 C557.5,518.2 553.5,521.9 549.2,524.6 C545.0,527.3 539.2,530.4 534.7,533.7 C530.2,537.1 527.1,541.5 521.9,544.7 C516.7,547.9 509.5,550.1 503.7,552.9 C497.9,555.7 491.6,559.0 487.1,561.3 C482.6,563.6 480.0,564.8 476.5,566.6 C473.0,568.4 470.0,569.8 465.9,571.9 C461.8,574.0 456.8,576.2 451.7,579.0 C446.6,581.8 437.6,585.4 435.2,588.4 C432.8,591.4 435.7,594.9 437.5,596.7 C439.3,598.5 442.7,598.6 445.8,599.0 C448.9,599.4 451.9,599.1 456.4,599.0 C460.9,598.9 468.5,598.9 473.0,598.5 C477.5,598.1 479.4,597.8 483.6,596.7 C487.8,595.6 493.3,594.0 498.2,592.0 C503.1,590.0 507.9,587.8 512.8,584.8 C517.7,581.8 522.5,577.4 527.4,573.8 C532.3,570.1 537.1,567.1 542.0,562.9 C546.9,558.6 552.9,553.5 556.5,548.3 C560.1,543.1 562.3,536.8 563.8,531.9 C565.3,527.0 566.2,521.6 565.6,519.2Z" fill="none" stroke="#0000f0" stroke-width="2.2" stroke-dasharray="11 8"/>
<path d="M607.7,443.8 C609.4,444.8 611.5,448.7 611.9,454.2 C612.2,459.7 611.4,470.1 609.8,477.0 C608.2,483.9 604.7,490.0 602.5,495.8 C600.3,501.6 599.1,506.5 596.6,511.9 C594.1,517.3 591.1,523.1 587.5,528.3 C583.9,533.4 579.0,538.8 574.8,542.8 C570.5,546.8 566.3,549.0 562.0,552.0 C557.7,555.0 554.4,559.0 549.2,561.1 C544.0,563.2 534.9,564.1 531.0,564.7 C527.1,565.3 525.0,567.1 525.6,564.7 C526.2,562.3 531.4,555.0 534.7,550.1 C538.0,545.2 542.0,540.5 545.6,535.6 C549.2,530.8 552.9,525.9 556.5,521.0 C560.1,516.1 564.0,511.6 567.5,506.4 C571.0,501.2 574.3,495.2 577.5,489.6 C580.7,484.0 583.9,478.1 586.9,472.9 C589.9,467.7 592.7,462.4 595.2,458.3 C597.7,454.2 599.9,450.4 602.0,448.0 C604.1,445.6 606.1,442.7 607.7,443.8Z" fill="none" stroke="#8cff00" stroke-width="2.2" stroke-dasharray="11 8"/>
<path d="M625.4,415.6 C628.2,415.4 633.9,414.8 635.8,418.8 C637.7,422.8 637.2,433.4 636.9,439.6 C636.6,445.9 635.0,450.7 633.8,456.2 C632.5,461.8 631.3,467.0 629.6,472.9 C627.9,478.8 625.4,485.8 623.3,491.7 C621.2,497.6 619.9,502.8 617.1,508.3 C614.3,513.9 610.2,519.8 606.7,525.0 C603.2,530.2 600.7,535.1 596.2,539.6 C591.8,544.1 584.8,549.3 580.0,552.0 C575.2,554.7 570.8,556.3 567.5,555.6 C564.2,554.9 560.4,552.1 560.0,548.0 C559.6,543.9 562.4,536.1 565.0,531.2 C567.6,526.4 571.6,523.6 575.4,518.8 C579.2,513.9 584.1,507.6 587.9,502.0 C591.7,496.4 595.2,490.9 598.3,485.4 C601.4,479.9 604.3,474.3 606.7,468.8 C609.1,463.2 611.2,458.2 612.9,452.0 C614.6,445.8 616.1,436.6 617.1,431.2 C618.1,425.9 617.6,422.6 619.0,420.0 C620.4,417.4 622.6,415.8 625.4,415.6Z" fill="none" stroke="#d8c878" stroke-width="2.2" stroke-dasharray="11 8"/>
<path d="M631.4,373.6 C633.9,373.0 636.9,376.2 639.2,379.5 C641.5,382.8 643.8,387.2 645.1,393.1 C646.4,399.0 646.9,407.2 647.0,415.0 C647.1,422.8 646.8,432.1 646.0,440.0 C645.2,447.9 643.3,455.3 642.0,462.5 C640.7,469.7 640.1,474.0 638.0,483.0 C635.9,492.0 632.7,508.0 629.6,516.7 C626.5,525.4 622.9,529.8 619.2,535.4 C615.5,541.0 612.0,545.8 607.6,550.1 C603.2,554.4 598.5,557.5 593.0,561.1 C587.5,564.8 580.9,569.3 574.8,572.0 C568.7,574.7 560.8,576.9 556.5,577.5 C552.2,578.1 551.0,577.4 549.2,575.6 C547.4,573.8 545.6,571.6 545.6,566.5 C545.6,561.4 547.4,550.8 549.2,544.7 C551.0,538.6 553.5,535.3 556.5,530.1 C559.5,524.9 563.9,519.2 567.5,513.7 C571.1,508.2 575.0,502.4 578.4,497.3 C581.8,492.2 584.9,488.4 587.9,483.3 C590.9,478.2 593.8,472.2 596.2,466.7 C598.7,461.1 600.4,455.9 602.5,450.0 C604.6,444.1 607.0,437.5 608.8,431.2 C610.5,425.0 611.2,418.2 612.9,412.5 C614.6,406.8 617.1,401.9 619.0,397.0 C620.9,392.1 622.2,387.3 624.3,383.4 C626.4,379.5 628.9,374.2 631.4,373.6Z" fill="none" stroke="#a82424" stroke-width="2.2" stroke-dasharray="11 8"/>
<path d="M619.0,338.4 C621.8,338.3 625.2,346.7 628.0,352.0 C630.8,357.3 633.8,364.0 636.0,370.0 C638.2,376.0 639.8,381.7 641.0,388.0 C642.2,394.3 642.7,401.0 643.0,408.0 C643.3,415.0 643.3,422.7 643.0,430.0 C642.7,437.3 642.0,445.0 641.0,452.0 C640.0,459.0 638.5,465.5 637.0,472.0 C635.5,478.5 634.0,484.8 632.0,491.0 C630.0,497.2 627.7,503.3 625.0,509.0 C622.3,514.7 619.2,519.8 616.0,525.0 C612.8,530.2 609.7,535.3 606.0,540.0 C602.3,544.7 598.3,548.8 594.0,553.0 C589.7,557.2 584.8,561.2 580.0,565.0 C575.2,568.8 570.3,572.3 565.0,576.0 C559.7,579.7 553.8,583.7 548.0,587.0 C542.2,590.3 535.5,593.2 530.0,596.0 C524.5,598.8 520.6,601.7 515.0,603.8 C509.4,605.9 502.0,607.5 496.6,608.5 C491.2,609.5 486.5,609.9 482.4,609.7 C478.3,609.5 473.6,608.9 471.8,607.3 C470.0,605.7 470.4,603.4 471.8,600.2 C473.2,597.1 476.9,592.5 480.0,588.4 C483.1,584.3 487.2,579.8 490.7,575.4 C494.2,571.0 496.9,566.2 501.0,562.0 C505.1,557.8 510.3,554.2 515.0,550.0 C519.7,545.8 524.5,541.3 529.0,537.0 C533.5,532.7 538.0,528.5 542.0,524.0 C546.0,519.5 549.5,514.8 553.0,510.0 C556.5,505.2 559.7,500.2 563.0,495.0 C566.3,489.8 569.7,484.5 573.0,479.0 C576.3,473.5 580.0,467.7 583.0,462.0 C586.0,456.3 588.7,450.7 591.0,445.0 C593.3,439.3 595.2,434.0 597.0,428.0 C598.8,422.0 600.3,415.0 601.5,408.8 C602.7,402.5 603.0,396.6 604.1,390.5 C605.2,384.4 606.8,378.6 608.0,372.3 C609.2,366.0 609.4,358.5 611.2,352.8 C613.1,347.1 616.2,338.5 619.0,338.4Z" fill="none" stroke="#ff8c00" stroke-width="2.2" stroke-dasharray="11 8"/>
<path d="M617.8,330.6 C620.8,332.1 622.8,338.0 625.6,342.3 C628.4,346.6 632.1,351.7 634.7,356.7 C637.3,361.7 639.5,366.7 641.2,372.3 C642.9,377.9 644.5,384.0 645.1,390.5 C645.8,397.0 645.6,403.6 645.1,411.4 C644.6,419.2 643.3,430.0 642.1,437.5 C640.9,445.0 639.3,450.4 637.9,456.2 C636.5,462.1 635.5,467.0 633.8,472.9 C632.0,478.8 629.6,485.8 627.5,491.7 C625.4,497.6 623.9,502.8 621.2,508.3 C618.6,513.9 615.4,519.4 611.9,525.0 C608.4,530.6 604.0,536.9 600.4,541.7 C596.8,546.5 593.7,549.5 590.0,554.0 C586.3,558.5 583.1,564.2 578.4,568.4 C573.7,572.6 567.8,575.7 562.0,579.3 C556.2,582.9 549.9,587.2 543.8,590.2 C537.7,593.2 531.7,594.6 525.6,597.5 C519.5,600.4 512.8,604.9 507.2,607.3 C501.6,609.7 497.1,610.6 491.8,612.0 C486.5,613.4 481.2,614.6 475.3,615.6 C469.4,616.6 462.1,617.6 456.4,618.0 C450.7,618.4 444.5,618.8 441.1,618.0 C437.8,617.2 435.9,615.6 436.3,613.2 C436.7,610.8 440.0,607.1 443.4,603.8 C446.8,600.4 451.9,596.6 456.4,593.1 C460.9,589.6 465.9,586.3 470.6,582.5 C475.3,578.7 480.2,574.0 484.8,570.1 C489.4,566.2 493.5,563.1 498.2,559.2 C502.9,555.3 508.2,550.6 512.8,546.5 C517.4,542.4 521.4,538.6 525.6,534.6 C529.9,530.6 534.2,527.3 538.3,522.8 C542.4,518.2 546.6,512.3 550.4,507.3 C554.1,502.3 557.5,497.8 560.8,492.7 C564.1,487.6 567.1,482.4 570.2,477.0 C573.3,471.6 576.7,465.9 579.6,460.4 C582.5,454.9 585.5,449.3 587.9,443.8 C590.3,438.2 592.6,432.6 594.2,427.0 C595.8,421.4 596.7,416.1 597.6,410.0 C598.5,403.9 598.9,396.8 599.5,390.5 C600.1,384.2 600.9,378.4 601.5,372.3 C602.1,366.2 602.4,360.5 603.4,354.0 C604.4,347.5 604.9,337.1 607.3,333.2 C609.7,329.3 614.8,329.1 617.8,330.6Z" fill="none" stroke="#ffff00" stroke-width="2.2" stroke-dasharray="11 8"/>
<path d="M621.7,343.0 C623.4,341.1 626.0,343.8 628.0,345.0 C630.0,346.2 631.2,346.5 633.4,350.2 C635.6,353.9 639.0,361.2 641.2,367.1 C643.4,373.0 645.2,379.2 646.4,385.3 C647.6,391.4 648.1,396.1 648.4,403.5 C648.7,410.9 648.3,421.9 648.3,430.0 C648.3,438.1 649.0,445.5 648.3,452.0 C647.6,458.5 645.9,462.5 644.2,468.8 C642.5,475.0 640.3,480.9 637.9,489.6 C635.5,498.3 632.7,512.8 629.6,520.8 C626.5,528.8 623.0,532.6 619.2,537.5 C615.4,542.4 611.1,546.1 606.7,550.0 C602.3,553.9 597.8,557.5 593.0,561.0 C588.2,564.5 583.2,567.8 578.0,571.0 C572.8,574.2 567.7,576.8 562.0,580.0 C556.3,583.2 549.9,587.1 543.8,590.2 C537.7,593.3 530.4,596.6 525.6,598.5 C520.8,600.4 518.1,600.7 515.0,601.4 C511.9,602.1 510.5,603.2 507.2,602.6 C503.9,602.0 496.8,601.5 495.4,597.9 C494.0,594.3 496.6,586.5 498.9,581.3 C501.2,576.1 505.7,571.1 509.2,566.5 C512.7,561.9 516.2,558.3 520.1,553.8 C524.0,549.2 528.8,544.0 532.8,539.2 C536.8,534.4 540.6,530.1 544.2,525.0 C547.8,519.9 551.1,513.5 554.6,508.3 C558.1,503.1 561.5,498.6 565.0,493.8 C568.5,488.9 571.8,484.1 575.4,479.2 C579.0,474.3 583.4,469.5 586.9,464.6 C590.4,459.7 593.6,455.6 596.2,450.0 C598.9,444.4 601.0,437.9 602.5,431.2 C604.0,424.6 604.4,416.1 605.4,410.0 C606.4,403.9 607.3,400.2 608.6,394.4 C609.9,388.5 611.7,381.2 613.2,374.9 C614.7,368.6 616.4,362.0 617.8,356.7 C619.2,351.4 620.0,344.9 621.7,343.0Z" fill="none" stroke="#ff0000" stroke-width="2.2" stroke-dasharray="11 8"/>
<path d="M245.3,369.6 C243.3,364.7 240.9,359.8 239.4,353.9 C237.9,348.0 236.7,340.8 236.4,334.2 C236.1,327.6 236.2,321.1 237.4,314.5 C238.6,307.9 240.7,300.7 243.3,294.8 C245.9,288.9 248.8,284.0 253.1,279.1 C257.4,274.2 263.3,268.8 268.9,265.3 C274.5,261.9 280.4,260.1 286.6,258.4 C292.8,256.7 299.7,255.5 306.3,255.0 C312.9,254.5 320.1,255.2 326.0,255.4 C331.9,255.6 336.4,255.7 341.7,256.4 C346.9,257.1 351.1,257.4 357.5,259.4 C363.9,261.4 373.0,265.6 380.0,268.2 C387.0,270.8 393.1,272.0 399.7,275.1 C406.3,278.2 412.8,282.3 419.4,286.9 C426.0,291.5 433.2,297.4 439.1,302.7 C445.0,307.9 450.2,313.1 454.8,318.4 C459.4,323.6 463.0,328.9 466.6,334.2 C470.2,339.4 473.9,344.0 476.5,349.9 C479.1,355.8 480.8,364.6 482.4,369.6 C484.0,374.6 485.6,374.7 486.3,379.7 C487.0,384.7 487.6,393.2 486.3,399.4 C485.0,405.6 482.0,411.9 478.4,417.1 C474.8,422.4 469.9,426.6 464.6,430.9 C459.4,435.2 452.7,439.4 446.9,442.7 C441.1,446.0 436.7,448.4 430.0,450.5 C423.3,452.6 413.5,454.0 406.5,455.1 C399.5,456.2 394.3,456.7 388.2,456.9 C382.1,457.1 378.4,457.4 370.0,456.4 C361.6,455.3 348.4,453.6 337.8,450.6 C327.2,447.7 315.5,443.0 306.3,438.7 C297.1,434.4 289.3,430.6 282.7,425.0 C276.1,419.4 272.1,412.2 266.9,405.3 C261.6,398.4 254.8,389.6 251.2,383.6 C247.6,377.7 247.3,374.6 245.3,369.6Z" fill="none" stroke="#a0a0a0" stroke-width="2.2"/>
<path d="M230.5,369.6 C229.0,365.6 227.6,359.8 226.6,353.9 C225.6,348.0 224.9,340.1 224.6,334.2 C224.3,328.3 224.1,324.3 224.6,318.4 C225.1,312.5 225.8,304.3 227.6,298.7 C229.4,293.1 231.8,289.6 235.4,285.0 C239.0,280.4 244.3,275.0 249.2,271.2 C254.1,267.4 259.4,264.6 265.0,262.3 C270.6,260.0 277.1,258.5 282.7,257.4 C288.3,256.2 292.5,255.8 298.4,255.4 C304.3,255.0 312.2,254.5 318.1,255.0 C324.0,255.5 328.6,257.2 333.9,258.4 C339.1,259.6 344.4,260.7 349.6,262.3 C354.9,263.9 360.3,265.9 365.4,268.2 C370.5,270.5 374.3,273.3 380.0,276.1 C385.7,278.9 393.1,281.9 399.7,285.0 C406.3,288.1 412.8,291.5 419.4,294.8 C426.0,298.1 432.6,300.3 439.1,304.6 C445.7,308.9 452.8,315.1 458.7,320.4 C464.6,325.6 469.9,331.2 474.5,336.1 C479.1,341.0 483.0,345.3 486.3,349.9 C489.6,354.5 491.9,358.7 494.2,363.7 C496.5,368.7 499.1,373.1 500.1,379.7 C501.1,386.3 501.1,396.1 500.1,403.3 C499.1,410.5 497.1,417.1 494.2,423.0 C491.2,428.9 487.6,434.6 482.4,438.7 C477.1,442.8 469.3,445.0 462.7,447.6 C456.1,450.2 448.4,452.7 443.0,454.5 C437.6,456.3 436.1,457.1 430.0,458.3 C423.9,459.5 413.5,461.0 406.5,461.9 C399.5,462.8 394.3,463.3 388.2,463.7 C382.1,464.1 375.8,464.6 370.0,464.2 C364.2,463.8 360.2,462.7 353.5,461.4 C346.8,460.1 337.8,459.0 329.9,456.5 C322.0,454.0 314.2,450.2 306.3,446.6 C298.4,443.0 289.9,439.4 282.7,434.8 C275.5,430.2 268.9,425.0 263.0,419.1 C257.1,413.2 251.8,406.3 247.2,399.4 C242.6,392.5 238.2,382.7 235.4,377.7 C232.6,372.7 232.0,373.6 230.5,369.6Z" fill="none" stroke="#e0b4b4" stroke-width="2.2"/>
<path d="M223.6,369.6 C222.4,365.3 221.2,360.5 220.7,353.9 C220.2,347.3 220.5,336.8 220.7,330.2 C220.9,323.6 220.9,319.1 221.7,314.5 C222.5,309.9 223.6,306.6 225.6,302.7 C227.6,298.8 230.6,294.2 233.5,290.9 C236.4,287.6 240.0,284.8 243.3,283.0 C246.6,281.2 249.8,281.0 253.1,280.0 C256.4,279.0 258.7,277.6 263.0,277.1 C267.3,276.6 273.4,276.8 278.7,277.1 C283.9,277.4 289.2,278.3 294.5,279.1 C299.8,279.9 304.9,280.9 310.2,282.0 C315.4,283.1 320.8,284.6 326.0,285.9 C331.2,287.2 336.4,288.4 341.7,289.9 C346.9,291.4 351.1,293.2 357.5,294.8 C363.9,296.4 371.3,297.1 380.0,299.7 C388.7,302.3 399.6,306.8 409.5,310.6 C419.4,314.4 430.9,319.0 439.1,322.4 C447.3,325.8 453.1,328.2 458.7,331.2 C464.3,334.1 468.6,337.0 472.5,340.1 C476.4,343.2 479.4,346.3 482.4,349.9 C485.3,353.5 487.6,356.1 490.2,361.7 C492.8,367.3 496.8,376.7 498.1,383.6 C499.4,390.5 499.4,396.4 498.1,403.3 C496.8,410.2 493.5,419.1 490.2,425.0 C486.9,430.9 483.6,435.1 478.4,438.7 C473.1,442.3 466.8,444.2 458.7,446.6 C450.6,449.0 438.7,451.5 430.0,453.2 C421.3,454.9 413.5,455.9 406.5,456.9 C399.5,457.9 394.3,458.4 388.2,459.2 C382.1,460.0 374.2,461.0 370.0,461.9 C365.8,462.8 367.0,464.3 362.9,464.8 C358.8,465.3 352.0,465.7 345.2,464.8 C338.4,463.9 329.1,461.3 322.0,459.4 C314.9,457.5 308.9,456.0 302.4,453.5 C295.8,451.0 288.9,448.1 282.7,444.6 C276.5,441.2 270.6,437.4 265.0,432.8 C259.4,428.2 253.8,422.7 249.2,417.1 C244.6,411.5 241.0,405.6 237.4,399.4 C233.8,393.2 229.9,384.7 227.6,379.7 C225.3,374.7 224.8,373.9 223.6,369.6Z" fill="none" stroke="#0000f0" stroke-width="2.2"/>
<path d="M229.5,369.6 C228.5,364.0 227.6,354.2 227.6,346.0 C227.6,337.8 227.5,326.3 229.5,320.4 C231.5,314.5 236.5,313.2 239.4,310.6 C242.3,308.0 244.2,306.2 247.2,304.6 C250.1,303.0 252.5,301.5 257.1,300.7 C261.7,299.9 268.6,299.5 274.8,299.7 C281.0,299.9 287.9,300.9 294.5,301.7 C301.1,302.5 307.6,303.6 314.2,304.6 C320.8,305.6 327.3,306.6 333.9,307.6 C340.4,308.6 346.9,309.5 353.5,310.6 C360.1,311.8 365.4,313.2 373.2,314.5 C380.9,315.8 393.9,317.6 400.0,318.4 C406.1,319.2 403.0,317.9 409.5,319.4 C416.0,320.9 430.9,325.0 439.1,327.3 C447.3,329.6 453.1,330.8 458.7,333.2 C464.3,335.6 468.6,338.6 472.5,342.0 C476.4,345.4 479.1,349.3 482.4,353.9 C485.7,358.5 490.2,366.0 492.2,369.6 C494.2,373.2 493.9,371.4 494.2,375.7 C494.5,380.0 495.5,388.8 494.2,395.4 C492.9,402.0 490.2,409.2 486.3,415.1 C482.4,421.0 476.5,426.3 470.6,430.9 C464.7,435.5 457.7,440.1 450.9,442.7 C444.1,445.3 437.4,445.0 430.0,446.4 C422.6,447.8 413.5,449.6 406.5,451.0 C399.5,452.4 394.3,453.1 388.2,454.6 C382.1,456.1 375.1,458.7 370.0,460.1 C364.9,461.6 363.5,463.1 357.5,463.3 C351.5,463.5 341.8,462.5 333.9,461.4 C326.0,460.3 317.4,458.6 310.2,456.5 C303.0,454.4 297.2,451.9 290.6,448.6 C284.1,445.3 276.8,441.4 270.9,436.8 C265.0,432.2 259.7,426.6 255.1,421.0 C250.5,415.4 246.9,410.2 243.3,403.3 C239.7,396.4 235.8,385.3 233.5,379.7 C231.2,374.1 230.5,375.2 229.5,369.6Z" fill="none" stroke="#28f0e0" stroke-width="2.2"/>
<path d="M257.1,369.6 C258.2,366.0 260.4,362.1 263.0,357.8 C265.6,353.5 268.9,347.6 272.8,344.0 C276.7,340.4 281.7,338.2 286.6,336.1 C291.5,334.0 296.5,332.7 302.4,331.2 C308.3,329.7 315.4,328.4 322.0,327.3 C328.6,326.2 334.1,325.0 341.7,324.3 C349.2,323.6 359.8,323.3 367.3,323.3 C374.9,323.3 381.6,323.8 387.0,324.3 C392.4,324.8 394.6,326.0 400.0,326.3 C405.4,326.6 411.2,325.8 419.4,326.3 C427.5,326.8 440.0,328.0 448.9,329.3 C457.8,330.6 465.9,331.4 472.5,334.2 C479.1,337.0 484.0,342.1 488.3,346.0 C492.6,349.9 496.1,353.9 498.1,357.8 C500.1,361.7 499.8,366.0 500.1,369.6 C500.4,373.2 501.1,375.4 500.1,379.7 C499.1,384.0 497.8,389.8 494.2,395.4 C490.6,401.0 484.3,407.9 478.4,413.1 C472.5,418.4 466.8,423.3 458.7,426.9 C450.6,430.5 438.7,432.4 430.0,434.6 C421.3,436.8 413.5,438.2 406.5,440.0 C399.5,441.8 394.3,443.7 388.2,445.5 C382.1,447.3 377.5,449.4 370.0,451.0 C362.5,452.6 351.4,454.6 343.4,455.1 C335.4,455.6 329.2,454.9 322.1,454.2 C315.0,453.4 308.3,453.0 300.9,450.6 C293.5,448.2 284.1,445.2 277.8,440.0 C271.5,434.8 266.4,425.9 263.0,419.1 C259.6,412.3 258.2,406.0 257.1,399.4 C256.0,392.8 256.1,384.7 256.1,379.7 C256.1,374.7 256.0,373.2 257.1,369.6Z" fill="none" stroke="#00a000" stroke-width="2.2"/>
<path d="M268.9,369.6 C271.2,366.0 274.8,361.7 278.7,357.8 C282.6,353.9 286.9,349.6 292.5,346.0 C298.1,342.4 305.3,339.0 312.2,336.0 C319.1,333.0 326.3,330.1 333.9,328.0 C341.4,325.9 349.8,324.4 357.5,323.5 C365.2,322.6 371.3,322.9 380.0,322.4 C388.7,321.9 399.6,321.1 409.5,320.4 C419.4,319.7 428.9,318.9 439.1,318.4 C449.3,317.9 462.1,317.1 470.6,317.4 C479.1,317.7 485.3,319.0 490.2,320.4 C495.1,321.8 496.6,322.8 500.0,325.5 C503.4,328.2 508.2,332.2 510.9,336.5 C513.6,340.8 515.8,345.5 516.4,351.0 C517.0,356.5 515.8,363.5 514.6,369.3 C513.4,375.1 511.5,381.8 509.1,385.7 C506.7,389.6 505.1,388.1 500.0,393.0 C494.9,397.9 485.9,409.1 478.4,415.1 C470.9,421.1 463.0,425.4 454.8,428.9 C446.6,432.3 435.7,434.6 429.2,435.8 C422.7,437.1 419.4,436.0 415.6,436.4 C411.8,436.8 411.1,437.1 406.5,438.2 C401.9,439.3 394.3,441.2 388.2,442.8 C382.1,444.4 377.5,444.7 370.0,447.8 C362.5,450.9 351.4,458.8 343.4,461.3 C335.4,463.8 329.2,463.1 322.1,463.0 C315.0,462.9 307.4,461.9 300.9,460.4 C294.4,458.9 287.9,457.0 283.2,454.2 C278.5,451.4 275.9,448.7 272.5,443.5 C269.1,438.3 264.9,430.4 263.0,423.0 C261.1,415.6 260.7,406.6 261.0,399.4 C261.3,392.2 263.7,384.7 265.0,379.7 C266.3,374.7 266.6,373.2 268.9,369.6Z" fill="none" stroke="#a0c828" stroke-width="2.2"/>
<path d="M278.7,369.6 C281.7,365.3 286.0,358.5 290.6,353.9 C295.2,349.3 300.4,346.1 306.3,342.0 C312.2,337.9 319.4,332.6 326.0,329.3 C332.6,326.0 338.5,324.5 345.7,322.4 C352.9,320.3 360.2,318.5 369.3,316.5 C378.4,314.5 393.3,311.9 400.0,310.6 C406.7,309.3 404.3,310.2 409.5,308.6 C414.7,307.0 424.6,303.5 431.2,300.7 C437.8,297.9 442.3,294.0 448.9,291.9 C455.5,289.8 463.7,288.1 470.6,287.9 C477.5,287.7 484.1,288.9 490.2,290.9 C496.3,292.9 502.3,296.7 507.3,300.0 C512.3,303.3 516.4,305.4 520.0,310.9 C523.6,316.4 527.5,325.5 529.2,332.8 C530.9,340.1 530.7,347.4 530.1,354.7 C529.5,362.0 528.1,369.3 525.5,376.6 C522.9,383.9 518.9,392.9 514.6,398.4 C510.4,403.9 504.1,405.6 500.0,409.4 C495.9,413.2 495.8,417.1 490.2,421.0 C484.6,424.9 476.6,430.7 466.6,432.8 C456.6,434.9 440.0,433.4 430.0,433.6 C420.0,433.8 413.5,433.2 406.5,434.1 C399.5,435.0 394.0,436.9 388.2,439.1 C382.4,441.3 377.4,443.7 371.7,447.1 C366.0,450.5 359.9,455.7 354.0,459.5 C348.1,463.3 342.2,467.2 336.3,470.1 C330.4,473.1 324.5,476.3 318.6,477.2 C312.7,478.1 306.8,477.2 300.9,475.4 C295.0,473.6 288.2,470.1 283.2,466.6 C278.2,463.1 273.8,458.6 270.8,454.2 C267.8,449.8 266.7,445.9 265.4,440.0 C264.1,434.1 263.1,425.9 263.0,419.1 C262.9,412.3 263.4,406.0 265.0,399.4 C266.6,392.8 270.5,384.7 272.8,379.7 C275.1,374.7 275.7,373.9 278.7,369.6Z" fill="none" stroke="#8cff00" stroke-width="2.2"/>
<path d="M266.0,369.6 C267.0,366.0 267.4,358.8 268.9,353.9 C270.4,349.0 271.9,345.0 274.8,340.1 C277.8,335.2 282.0,329.2 286.6,324.3 C291.2,319.4 296.5,314.9 302.4,310.6 C308.3,306.3 315.4,301.8 322.0,298.7 C328.6,295.6 336.4,293.4 341.7,291.9 C346.9,290.4 347.1,290.3 353.5,289.9 C359.9,289.5 372.3,290.0 380.0,289.5 C387.7,289.0 393.1,289.1 399.7,287.0 C406.3,284.9 412.8,280.7 419.4,277.0 C426.0,273.3 433.2,268.3 439.1,265.0 C445.0,261.7 449.6,259.0 454.8,257.0 C460.1,255.0 466.0,253.5 470.6,253.0 C475.2,252.5 477.8,252.8 482.4,254.0 C487.0,255.2 492.2,255.2 498.1,260.4 C504.0,265.6 512.6,278.4 517.8,285.0 C523.0,291.6 526.1,295.1 529.2,300.0 C532.3,304.9 534.5,308.5 536.5,314.6 C538.5,320.7 540.5,329.8 541.0,336.5 C541.5,343.2 540.3,348.6 539.2,354.7 C538.1,360.8 536.6,366.8 534.6,372.9 C532.6,379.0 530.3,384.4 527.3,391.1 C524.3,397.8 520.3,406.3 516.4,413.0 C512.5,419.7 508.0,425.9 503.6,431.2 C499.2,436.5 495.7,441.2 490.2,444.6 C484.7,448.0 477.2,450.2 470.6,451.5 C464.1,452.8 457.7,453.1 450.9,452.5 C444.1,451.9 435.6,448.5 430.0,447.8 C424.4,447.1 421.0,447.9 417.4,448.2 C413.8,448.5 411.6,448.7 408.3,449.6 C405.0,450.5 400.7,451.9 397.3,453.7 C393.9,455.4 391.2,457.5 388.2,460.1 C385.2,462.7 382.1,466.3 379.1,469.2 C376.1,472.1 372.4,475.2 370.0,477.4 C367.6,479.6 368.6,479.6 364.7,482.5 C360.8,485.4 352.8,491.3 346.9,494.9 C341.0,498.4 335.1,502.2 329.2,503.8 C323.3,505.4 317.4,505.3 311.5,504.7 C305.6,504.1 299.7,502.7 293.8,500.2 C287.9,497.7 281.1,493.7 276.1,489.6 C271.1,485.5 267.2,480.4 263.7,475.4 C260.1,470.4 257.0,465.4 254.8,459.5 C252.6,453.6 251.0,448.1 250.4,440.0 C249.8,431.9 250.1,419.3 251.2,411.2 C252.3,403.1 255.1,397.4 257.1,391.5 C259.1,385.6 261.5,379.3 263.0,375.7 C264.5,372.1 265.0,373.2 266.0,369.6Z" fill="none" stroke="#ff8c00" stroke-width="2.2"/>
<path d="M257.1,369.6 C258.8,364.0 260.4,359.1 263.0,353.9 C265.6,348.6 269.5,343.0 272.8,338.1 C276.1,333.2 279.1,328.9 282.7,324.3 C286.3,319.7 289.9,314.5 294.5,310.6 C299.1,306.7 304.3,303.7 310.2,300.7 C316.1,297.7 323.3,294.9 329.9,292.8 C336.5,290.7 341.2,288.7 349.6,287.9 C358.0,287.1 371.6,288.4 380.0,287.9 C388.4,287.4 393.1,287.1 399.7,285.0 C406.3,282.9 412.8,278.7 419.4,275.1 C426.0,271.5 433.2,266.6 439.1,263.3 C445.0,260.0 449.6,257.4 454.8,255.4 C460.1,253.4 466.0,252.0 470.6,251.5 C475.2,251.0 477.8,251.2 482.4,252.5 C487.0,253.8 493.5,256.3 498.1,259.4 C502.7,262.5 506.0,266.6 509.9,271.2 C513.8,275.8 517.9,282.1 521.7,286.9 C525.5,291.7 529.4,294.8 532.8,300.0 C536.2,305.2 539.5,312.1 541.9,318.2 C544.3,324.3 546.2,330.4 547.0,336.5 C547.8,342.6 547.5,348.6 546.5,354.7 C545.5,360.8 543.3,366.8 541.0,372.9 C538.7,379.0 536.0,384.4 532.8,391.1 C529.6,397.8 525.5,405.7 521.9,413.0 C518.2,420.3 515.5,428.0 510.9,434.9 C506.3,441.8 500.3,450.4 494.2,454.5 C488.1,458.6 481.1,458.6 474.5,459.4 C467.9,460.2 462.8,460.0 454.8,459.4 C446.8,458.8 435.8,455.7 426.5,456.0 C417.2,456.3 404.7,460.3 399.2,461.4 C393.7,462.5 395.5,461.7 393.7,462.4 C391.9,463.1 390.6,463.7 388.2,465.6 C385.8,467.5 382.1,470.9 379.1,473.8 C376.1,476.7 372.4,480.8 370.0,482.9 C367.6,484.9 368.6,483.5 364.7,486.1 C360.8,488.7 353.4,495.1 346.9,498.5 C340.4,501.9 332.8,505.1 325.7,506.4 C318.6,507.7 310.9,507.1 304.4,506.4 C297.9,505.7 292.3,504.5 286.7,502.0 C281.1,499.5 275.5,495.5 270.8,491.4 C266.1,487.3 261.9,482.8 258.3,477.2 C254.8,471.6 251.7,465.8 249.5,457.7 C247.3,449.6 245.7,437.3 245.3,428.9 C244.9,420.5 245.9,414.1 247.2,407.2 C248.5,400.3 251.4,393.9 253.1,387.6 C254.8,381.3 255.5,375.2 257.1,369.6Z" fill="none" stroke="#ffff00" stroke-width="2.2"/>
<path d="M259.5,365.0 C260.8,356.8 259.2,351.8 259.5,346.0 C259.8,340.2 260.1,335.3 261.0,330.0 C261.9,324.7 262.7,318.6 265.0,314.0 C267.3,309.4 270.9,306.2 274.8,302.7 C278.7,299.2 283.4,296.7 288.6,292.8 C293.9,288.9 300.7,282.7 306.3,279.1 C311.9,275.5 316.8,273.8 322.0,271.2 C327.2,268.6 332.6,264.9 337.8,263.3 C343.1,261.7 346.5,261.6 353.5,261.3 C360.5,261.0 372.3,261.5 380.0,261.3 C387.7,261.1 393.1,261.7 399.7,260.4 C406.3,259.1 412.8,256.3 419.4,253.5 C426.0,250.7 433.2,246.2 439.1,243.6 C445.0,241.0 449.9,239.0 454.8,238.1 C459.7,237.2 464.3,237.7 468.6,238.1 C472.9,238.5 476.8,239.4 480.4,240.7 C484.0,241.9 486.6,243.6 490.2,245.6 C493.8,247.6 498.1,249.1 502.0,252.5 C505.9,255.9 509.9,261.1 513.9,266.0 C517.9,270.9 521.6,276.5 525.7,282.0 C529.8,287.5 535.0,293.1 538.3,299.0 C541.6,304.9 543.9,311.2 545.6,317.5 C547.3,323.8 548.2,330.3 548.3,336.5 C548.4,342.7 546.8,350.4 546.0,354.7 C545.2,358.9 545.5,355.9 543.7,362.0 C542.0,368.1 538.2,382.0 535.5,391.1 C532.8,400.2 529.6,407.1 527.3,416.7 C525.0,426.3 523.9,439.4 521.7,448.6 C519.5,457.9 517.8,465.3 513.9,472.2 C510.0,479.1 503.4,486.0 498.1,489.9 C492.9,493.8 487.3,494.8 482.4,495.8 C477.5,496.8 474.2,497.8 468.6,495.8 C463.0,493.8 455.6,488.0 448.9,484.0 C442.2,480.0 432.6,474.5 428.3,471.9 C424.0,469.3 425.0,469.2 422.9,468.3 C420.8,467.4 418.0,466.6 415.6,466.5 C413.2,466.4 411.0,466.2 408.3,467.4 C405.6,468.6 402.6,470.6 399.2,473.8 C395.8,477.0 391.8,482.2 388.2,486.5 C384.6,490.8 380.6,495.8 377.3,499.3 C374.0,502.8 373.3,503.9 368.2,507.3 C363.1,510.7 354.0,516.8 346.9,519.7 C339.8,522.7 332.8,524.5 325.7,525.0 C318.6,525.5 310.9,523.9 304.4,522.4 C297.9,520.9 292.6,519.3 286.7,516.2 C280.8,513.1 274.0,507.9 269.0,503.8 C264.0,499.7 260.1,496.7 256.6,491.4 C253.1,486.1 250.0,479.7 248.0,472.0 C246.0,464.3 245.1,453.8 244.5,445.0 C243.9,436.2 243.2,427.3 244.5,419.0 C245.8,410.7 249.5,404.0 252.0,395.0 C254.5,386.0 258.2,373.2 259.5,365.0Z" fill="none" stroke="#a82424" stroke-width="2.2"/>
<path d="M262.0,365.0 C263.8,356.8 262.5,351.5 263.0,346.0 C263.5,340.5 264.0,336.3 265.0,332.0 C266.0,327.7 266.7,323.9 269.0,320.0 C271.3,316.1 274.4,312.8 278.7,308.6 C282.9,304.4 288.6,299.4 294.5,294.8 C300.4,290.2 307.6,284.9 314.2,281.0 C320.8,277.1 328.0,273.5 333.9,271.2 C339.8,268.9 341.9,268.4 349.6,267.2 C357.3,266.0 371.6,264.6 380.0,263.8 C388.4,263.0 393.1,263.8 399.7,262.4 C406.3,261.0 412.8,258.3 419.4,255.5 C426.0,252.7 433.2,248.2 439.1,245.6 C445.0,243.0 449.9,240.7 454.8,239.7 C459.7,238.7 464.3,239.1 468.6,239.4 C472.9,239.7 476.8,240.5 480.4,241.6 C484.0,242.7 486.6,244.1 490.2,246.0 C493.8,247.9 498.1,249.6 502.0,253.0 C505.9,256.4 509.9,261.7 513.9,266.6 C517.9,271.5 521.7,277.0 525.7,282.5 C529.7,288.0 534.8,293.6 538.0,299.5 C541.2,305.4 543.6,311.8 545.2,318.0 C546.8,324.2 547.8,330.4 547.8,336.5 C547.8,342.6 546.6,349.1 545.5,354.7 C544.4,360.3 543.3,362.6 541.0,370.0 C538.7,377.4 534.8,388.6 531.6,399.4 C528.4,410.2 525.3,423.6 521.7,434.8 C518.1,446.0 514.5,458.6 509.9,466.3 C505.3,474.0 500.1,478.5 494.2,481.1 C488.3,483.7 481.1,482.8 474.5,482.0 C467.9,481.2 461.4,478.6 454.8,476.1 C448.2,473.7 439.2,468.8 435.1,467.3 C431.0,465.9 432.0,467.8 430.0,467.4 C428.0,466.9 425.3,465.1 422.9,464.6 C420.5,464.1 418.3,464.0 415.6,464.2 C412.9,464.4 409.6,464.7 406.5,466.0 C403.4,467.3 401.1,468.8 397.3,471.9 C393.5,475.0 388.2,480.3 383.7,484.7 C379.1,489.1 376.1,493.3 370.0,498.4 C363.9,503.5 354.3,511.4 346.9,515.3 C339.5,519.1 332.8,520.8 325.7,521.5 C318.6,522.2 311.5,521.2 304.4,519.7 C297.3,518.2 289.7,516.1 283.2,512.6 C276.7,509.1 270.4,503.2 265.4,498.5 C260.4,493.8 256.1,489.9 253.0,484.3 C249.8,478.7 248.0,472.4 246.5,465.0 C245.0,457.6 244.4,447.7 244.0,440.0 C243.6,432.3 242.7,426.5 244.0,419.0 C245.3,411.5 249.0,404.0 252.0,395.0 C255.0,386.0 260.2,373.2 262.0,365.0Z" fill="none" stroke="#d8c878" stroke-width="2.2"/>
<path d="M259.0,360.0 C260.6,351.8 260.2,351.0 261.0,346.0 C261.8,341.0 262.2,335.2 264.0,330.0 C265.8,324.8 268.9,319.1 272.0,314.5 C275.1,309.9 278.3,306.6 282.7,302.7 C287.1,298.8 292.5,294.8 298.4,290.9 C304.3,287.0 311.5,282.1 318.1,279.1 C324.7,276.1 331.2,274.6 337.8,273.1 C344.4,271.6 350.5,271.3 357.5,270.2 C364.5,269.1 373.0,267.3 380.0,266.3 C387.0,265.3 393.1,265.8 399.7,264.3 C406.3,262.8 412.8,260.2 419.4,257.4 C426.0,254.6 433.2,250.3 439.1,247.6 C445.0,244.9 449.9,242.5 454.8,241.3 C459.7,240.2 464.3,240.5 468.6,240.7 C472.9,240.9 476.8,241.6 480.4,242.6 C484.0,243.6 486.6,244.8 490.2,246.6 C493.8,248.4 498.1,250.1 502.0,253.5 C505.9,256.9 509.9,262.3 513.9,267.2 C517.9,272.1 521.6,277.5 525.7,283.0 C529.8,288.5 535.0,294.1 538.3,300.0 C541.6,305.9 543.9,312.1 545.6,318.2 C547.3,324.3 548.3,330.4 548.3,336.5 C548.3,342.6 546.8,348.6 545.6,354.7 C544.4,360.8 542.8,366.8 541.0,372.9 C539.2,379.0 536.9,385.0 534.6,391.1 C532.3,397.2 530.0,401.5 527.3,409.4 C524.6,417.3 521.8,431.0 518.2,438.5 C514.7,446.0 510.0,449.7 506.0,454.5 C502.0,459.3 498.8,464.4 494.2,467.3 C489.6,470.2 484.3,471.7 478.4,472.2 C472.5,472.7 465.2,471.3 458.7,470.2 C452.1,469.1 443.9,466.6 439.1,465.3 C434.3,464.0 433.9,462.9 430.0,462.4 C426.1,461.9 419.5,462.2 415.6,462.4 C411.7,462.6 409.6,462.6 406.5,463.7 C403.4,464.8 400.4,466.9 397.3,469.2 C394.2,471.5 391.2,474.7 388.2,477.4 C385.2,480.1 382.1,482.6 379.1,485.6 C376.1,488.6 375.4,491.4 370.0,495.6 C364.6,499.8 354.3,507.3 346.9,510.9 C339.5,514.5 332.8,516.2 325.7,517.1 C318.6,518.0 311.5,517.5 304.4,516.2 C297.3,514.9 289.7,512.7 283.2,509.1 C276.7,505.6 270.4,499.9 265.4,494.9 C260.4,489.9 256.2,484.6 253.0,479.0 C249.8,473.4 247.5,467.8 245.9,461.3 C244.3,454.8 243.7,447.0 243.3,440.0 C242.9,433.0 242.0,426.5 243.3,419.1 C244.6,411.7 248.6,405.2 251.2,395.4 C253.8,385.5 257.4,368.2 259.0,360.0Z" fill="none" stroke="#ff0000" stroke-width="2.2"/>
<rect x="341.8" y="383.7" width="5" height="5" fill="#a82424"/>
<rect x="331.9" y="400.8" width="5" height="5" fill="#ff8c00"/>
<rect x="390.9" y="424.0" width="5" height="5" fill="#d8c878"/>
<rect x="412.0" y="463.0" width="5" height="5" fill="#a0c828"/>
<rect x="404.0" y="497.0" width="5" height="5" fill="#e0b4b4"/>
<rect x="327.5" y="298.8" width="5" height="5" fill="#28f0e0"/>
<rect x="383" y="383" width="2" height="2" fill="#000"/>
<rect x="759" y="29.5" width="31" height="30" fill="#a82424"/>
<rect x="759" y="59.5" width="31" height="30" fill="#d8c878"/>
<rect x="759" y="89.5" width="31" height="30" fill="#ff0000"/>
<rect x="759" y="119.5" width="31" height="30" fill="#ff8c00"/>
<rect x="759" y="149.5" width="31" height="30" fill="#ffff00"/>
<rect x="759" y="179.5" width="31" height="30" fill="#8cff00"/>
<rect x="759" y="209.5" width="31" height="30" fill="#a0c828"/>
<rect x="759" y="239.5" width="31" height="30" fill="#00a000"/>
<rect x="759" y="269.5" width="31" height="30" fill="#28f0e0"/>
<rect x="759" y="299.5" width="31" height="30" fill="#0000f0"/>
<rect x="759" y="329.5" width="31" height="30" fill="#e0b4b4"/>
<rect x="759" y="359.5" width="31" height="30" fill="#a0a0a0"/>
<rect x="757.5" y="455.1" width="5" height="5" fill="#a82424"/>
<rect x="757.5" y="473.1" width="5" height="5" fill="#d8c878"/>
<rect x="757.5" y="491.1" width="5" height="5" fill="#ff8c00"/>
<rect x="757.5" y="509.1" width="5" height="5" fill="#a0c828"/>
<rect x="757.5" y="527.1" width="5" height="5" fill="#28f0e0"/>
<rect x="757.5" y="545.1" width="5" height="5" fill="#e0b4b4"/>
</svg>
<div class="t" style="left:10px;top:6px;">UKMO/M<span class="x">e</span><span class="i">t</span>O 14:274/12 ( O<span class="x">c</span><span class="i">t</span>  1) : &lt;Q&gt;=0 V<span class="x">o</span><span class="x">r</span><span class="i">t</span><span class="x">e</span><span class="x">x</span> E<span class="a">d</span><span class="x">g</span><span class="x">e</span><span class="x">s</span></div>
<div class="t" style="left:7px;top:26px;">  [CCW, S<span class="x">o</span><span class="a">l</span><span class="i">i</span><span class="a">d</span>]</div>
<div class="t" style="left:7px;top:46px;">  [CW, D<span class="x">a</span><span class="x">s</span><span class="a">h</span><span class="x">e</span><span class="a">d</span>]</div>
<div class="t" style="left:594px;top:46px;">( CCW &lt;<span class="x">m</span>/<span class="x">s</span>&gt; )</div>
<div class="t" style="left:10px;top:749.5px;">M<span class="x">e</span><span class="i">t</span>O/UKMO <span class="a">d</span><span class="x">a</span><span class="i">t</span><span class="x">a</span> <span class="x">a</span><span class="x">r</span><span class="x">e</span> <span class="x">c</span><span class="x">o</span><span class="x">u</span><span class="x">r</span><span class="i">t</span><span class="x">e</span><span class="x">s</span><span class="x">y</span> <span class="x">o</span><span class="a">f</span> B<span class="x">r</span><span class="i">i</span><span class="i">t</span><span class="i">i</span><span class="x">s</span><span class="a">h</span> A<span class="i">t</span><span class="x">m</span><span class="x">o</span><span class="x">s</span><span class="x">p</span><span class="a">h</span><span class="x">e</span><span class="x">r</span><span class="i">i</span><span class="x">c</span> D<span class="x">a</span><span class="i">t</span><span class="x">a</span> C<span class="x">e</span><span class="x">n</span><span class="i">t</span><span class="x">r</span><span class="x">e</span> BADC (CM<span class="x">e</span><span class="x">e</span><span class="a">k</span>,U<span class="x">o</span><span class="a">f</span>S<span class="x">a</span><span class="x">s</span><span class="a">k</span>)</div>
<div class="t" style="left:763px;top:38.0px;">16</div>
<div class="t" style="left:806px;top:38.0px;">450K</div>
<div class="t" style="left:763px;top:68.0px;">14</div>
<div class="t" style="left:806px;top:68.0px;">475K</div>
<div class="t" style="left:763px;top:98.0px;">12</div>
<div class="t" style="left:806px;top:98.0px;">500K</div>
<div class="t" style="left:763px;top:128.0px;">11</div>
<div class="t" style="left:806px;top:128.0px;">525K</div>
<div class="t" style="left:763px;top:158.0px;">11</div>
<div class="t" style="left:806px;top:158.0px;">550K</div>
<div class="t" style="left:763px;top:188.0px;">12</div>
<div class="t" style="left:806px;top:188.0px;">600K</div>
<div class="t" style="left:763px;top:218.0px;">16</div>
<div class="t" style="left:806px;top:218.0px;">700K</div>
<div class="t" style="left:763px;top:248.0px;">19</div>
<div class="t" style="left:806px;top:248.0px;">800K</div>
<div class="t" style="left:763px;top:278.0px;">26</div>
<div class="t" style="left:794px;top:278.0px;">1000K</div>
<div class="t" style="left:763px;top:308.0px;">32</div>
<div class="t" style="left:794px;top:308.0px;">1200K</div>
<div class="t" style="left:763px;top:338.0px;">42</div>
<div class="t" style="left:794px;top:338.0px;">1600K</div>
<div class="t" style="left:763px;top:368.0px;">47</div>
<div class="t" style="left:794px;top:368.0px;">2000K</div>
<div class="t" style="left:722px;top:378px;">90E</div>
<div class="t" style="left:372px;top:733px;background:#fff;line-height:16px;padding-top:2px">GM</div>
<div class="t" style="left:456px;top:463px;background:transparent">60</div>
<div class="t" style="left:539px;top:544px;">30</div>
<div class="t" style="left:624px;top:633px;background:#fff;line-height:16px;padding-top:2px;padding-right:1px">0</div>
<div class="t" style="left:771px;top:452.1px;">E<span class="x">u</span><span class="x">r</span><span class="x">e</span><span class="a">k</span><span class="x">a</span>:</div>
<div class="t" style="left:771px;top:470.1px;">N<span class="x">y</span> A<span class="a">l</span><span class="x">e</span><span class="x">s</span><span class="x">u</span><span class="x">n</span><span class="a">d</span></div>
<div class="t" style="left:771px;top:488.1px;">T<span class="a">h</span><span class="x">u</span><span class="a">l</span><span class="x">e</span>:</div>
<div class="t" style="left:771px;top:506.1px;">K<span class="i">i</span><span class="x">r</span><span class="x">u</span><span class="x">n</span><span class="x">a</span>:</div>
<div class="t" style="left:771px;top:524.1px;">P<span class="x">o</span><span class="a">k</span><span class="x">e</span><span class="x">r</span> F<span class="a">l</span><span class="x">a</span><span class="i">t</span></div>
<div class="t" style="left:771px;top:542.1px;">H<span class="x">a</span><span class="x">r</span><span class="x">e</span><span class="x">s</span><span class="i">t</span><span class="x">u</span><span class="x">a</span>:</div>
</body></html>
